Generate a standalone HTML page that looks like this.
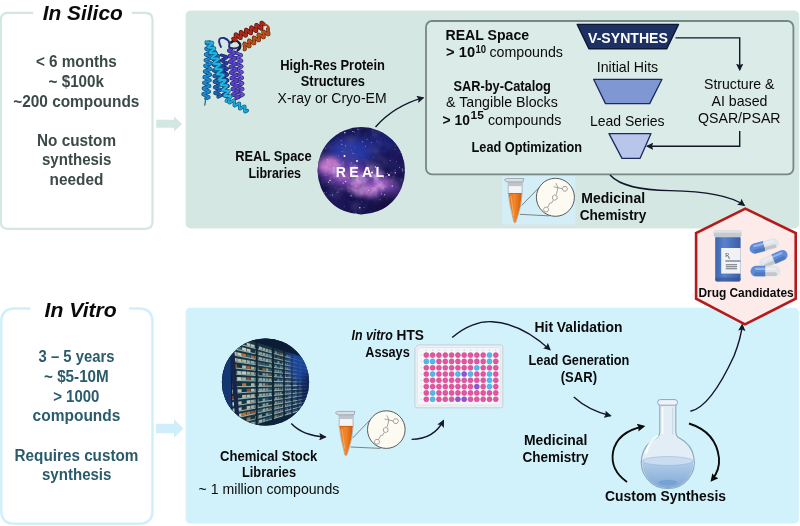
<!DOCTYPE html>
<html lang="en"><head><meta charset="utf-8"><title>In Silico vs In Vitro drug discovery</title>
<style>
html,body{margin:0;padding:0;background:#fff;}
body{width:800px;height:526px;overflow:hidden;}
svg{display:block;font-family:"Liberation Sans",Arial,sans-serif;will-change:transform;}
.b{font-weight:700}
.i{font-style:italic}
.arr{fill:none;stroke:#13152a;stroke-width:1.4}
</style></head><body>
<svg width="800" height="526" viewBox="0 0 800 526">
<defs>
<marker id="ah" viewBox="0 0 10 10" refX="8.5" refY="5" markerWidth="7.4" markerHeight="7.4" orient="auto-start-reverse" markerUnits="userSpaceOnUse"><path d="M0 0 L10 5 L0 10 L1.8 5 Z" fill="#15192b"/></marker>
<marker id="ahb" viewBox="0 0 10 10" refX="7" refY="5" markerWidth="8" markerHeight="8" orient="auto-start-reverse" markerUnits="userSpaceOnUse"><path d="M0 0 L10 5 L0 10 L1.5 5 Z" fill="#0b0b0b"/></marker>
<clipPath id="cgal"><circle cx="361.25" cy="170.75" r="43.7"/></clipPath>
<clipPath id="cstk"><circle cx="265.5" cy="382" r="43.6"/></clipPath>
<filter id="neb" x="0" y="0" width="100%" height="100%"><feTurbulence type="fractalNoise" baseFrequency="0.06" numOctaves="4" seed="4"/><feColorMatrix values="0 0 0 0 0.86  0 0 0 0 0.52  0 0 0 0 0.86  2.6 0 0 0 -1.15"/></filter>
<filter id="nebdark" x="0" y="0" width="100%" height="100%"><feTurbulence type="fractalNoise" baseFrequency="0.07" numOctaves="3" seed="9"/><feColorMatrix values="0 0 0 0 0.07  0 0 0 0 0.06  0 0 0 0 0.26  0 2.4 0 0 -1.0"/></filter>
<mask id="nebmask"><rect x="317" y="127" width="89" height="89" fill="#000"/><ellipse cx="355" cy="177" rx="40" ry="15" fill="#fff" filter="url(#blur5)" transform="rotate(16 355 177)"/></mask>
<filter id="blur3" x="-50%" y="-50%" width="200%" height="200%"><feGaussianBlur stdDeviation="3"/></filter>
<filter id="blur5" x="-50%" y="-50%" width="200%" height="200%"><feGaussianBlur stdDeviation="5"/></filter>
<filter id="blur1" x="-50%" y="-50%" width="200%" height="200%"><feGaussianBlur stdDeviation="0.6"/></filter>
<linearGradient id="stkbg" x1="0" y1="0" x2="1" y2="0"><stop offset="0" stop-color="#14303a"/><stop offset="0.6" stop-color="#17384a"/><stop offset="1" stop-color="#12306e"/></linearGradient>
<linearGradient id="liq" x1="0" y1="0" x2="0" y2="1"><stop offset="0" stop-color="#b5cfea"/><stop offset="1" stop-color="#7fa9d6"/></linearGradient>
<linearGradient id="bot" x1="0" y1="0" x2="1" y2="0"><stop offset="0" stop-color="#3d63ad"/><stop offset="0.35" stop-color="#5a82cc"/><stop offset="1" stop-color="#3a5ea6"/></linearGradient>
<linearGradient id="orange" x1="0" y1="0" x2="1" y2="0"><stop offset="0" stop-color="#e9741a"/><stop offset="0.45" stop-color="#f2872a"/><stop offset="1" stop-color="#cf5c0e"/></linearGradient>
</defs>
<rect width="800" height="526" fill="#ffffff"/>

<rect x="185.6" y="10.5" width="613.6" height="218" rx="5" fill="#d5e7e2"/>
<rect x="185.7" y="307.7" width="613.1" height="215.8" rx="4.5" fill="#d1f1fb"/>
<path d="M131.8 12.9 H145.5 Q152.5 12.9 152.5 20 V221.8 Q152.5 228.8 145.5 228.8 H7.8 Q0.8 228.8 0.8 221.8 V20 Q0.8 12.9 7.8 12.9 H33.2" fill="none" stroke="#d3e7e2" stroke-width="2.2"/>
<path d="M129 308.4 H139 Q152.5 308.4 152.5 322 V510.2 Q152.5 523.8 139 523.8 H14.8 Q1.3 523.8 1.3 510.2 V322 Q1.3 308.4 14.8 308.4 H30.5" fill="none" stroke="#d0effa" stroke-width="2.5"/>
<path d="M156.2 119.8 H174 V116.4 L182.1 123.9 L174 131.4 V127.8 H156.2 Z" fill="#d3e7e2"/>
<path d="M155.9 423.7 H174 V419.2 L183.5 428.5 L174 437.7 V433.3 H155.9 Z" fill="#cfeefa"/>
<rect x="426" y="21" width="367.4" height="153.3" rx="6" fill="#dbebe7" stroke="#788785" stroke-width="1.8"/>
<g fill="none" stroke-linecap="round" stroke-linejoin="round">
<path d="M221.5 55.1 222.7 55.6 224.4 56.1 226.0 56.6 226.8 57.2 226.7 57.7 225.5 58.4 223.9 59.0 222.3 59.7 221.5 60.3 221.7 60.9 222.9 61.4 224.6 61.9 226.2 62.4 227.1 62.9 226.9 63.5 225.8 64.1 224.1 64.8 222.6 65.4 221.8 66.0 222.0 66.6 223.2 67.1 224.9 67.6 226.5 68.1 227.4 68.6 227.2 69.2 226.1 69.8 224.4 70.5 222.9 71.1 222.0 71.8 222.3 72.3 223.5 72.8 225.2 73.3 226.8 73.8 227.6 74.4 227.5 74.9 226.3 75.6 224.7 76.2 223.1 76.9 222.3 77.5 222.5 78.1 223.7 78.6 225.4 79.1 227.0 79.6 227.9 80.1 227.7 80.7 226.6 81.3 224.9 82.0 223.4 82.6 222.6 83.2 222.8 83.8 224.0 84.3 225.7 84.8 227.3 85.3 228.2 85.8 228.0 86.4 226.9 87.0 225.2 87.7 223.7 88.3 222.8 89.0 223.1 89.5 224.3 90.0 226.0 90.5 227.6 91.0 228.4 91.6 228.3 92.1 227.1 92.8 225.5 93.4 223.9 94.1 223.1 94.7 223.3 95.3 224.5 95.8 226.2 96.3 227.8 96.8 228.7 97.3 228.5 97.9" stroke="#141d5c" stroke-width="3.1"/><path d="M221.5 55.1 222.7 55.6 224.4 56.1 226.0 56.6 226.8 57.2 226.7 57.7 225.5 58.4 223.9 59.0 222.3 59.7 221.5 60.3 221.7 60.9 222.9 61.4 224.6 61.9 226.2 62.4 227.1 62.9 226.9 63.5 225.8 64.1 224.1 64.8 222.6 65.4 221.8 66.0 222.0 66.6 223.2 67.1 224.9 67.6 226.5 68.1 227.4 68.6 227.2 69.2 226.1 69.8 224.4 70.5 222.9 71.1 222.0 71.8 222.3 72.3 223.5 72.8 225.2 73.3 226.8 73.8 227.6 74.4 227.5 74.9 226.3 75.6 224.7 76.2 223.1 76.9 222.3 77.5 222.5 78.1 223.7 78.6 225.4 79.1 227.0 79.6 227.9 80.1 227.7 80.7 226.6 81.3 224.9 82.0 223.4 82.6 222.6 83.2 222.8 83.8 224.0 84.3 225.7 84.8 227.3 85.3 228.2 85.8 228.0 86.4 226.9 87.0 225.2 87.7 223.7 88.3 222.8 89.0 223.1 89.5 224.3 90.0 226.0 90.5 227.6 91.0 228.4 91.6 228.3 92.1 227.1 92.8 225.5 93.4 223.9 94.1 223.1 94.7 223.3 95.3 224.5 95.8 226.2 96.3 227.8 96.8 228.7 97.3 228.5 97.9" stroke="#2a3fa2" stroke-width="1.8"/>
<path d="M215.5 52.0 213.8 52.7 212.7 53.3 212.7 53.8 213.9 54.3 215.7 54.8 217.4 55.3 218.6 55.8 218.6 56.3 217.5 57.0 215.8 57.6 214.1 58.3 213.0 58.9 213.1 59.5 214.2 60.0 216.0 60.4 217.8 60.9 218.9 61.4 218.9 62.0 217.9 62.6 216.1 63.2 214.4 63.9 213.3 64.5 213.4 65.1 214.5 65.6 216.3 66.1 218.1 66.5 219.2 67.0 219.2 67.6 218.2 68.2 216.4 68.9 214.7 69.5 213.7 70.2 213.7 70.7 214.8 71.2 216.6 71.7 218.4 72.2 219.5 72.7 219.5 73.2 218.5 73.8 216.8 74.5 215.0 75.2 214.0 75.8 214.0 76.3 215.1 76.8 216.9 77.3 218.7 77.8 219.8 78.3 219.8 78.8 218.8 79.5 217.1 80.1 215.3 80.8 214.3 81.4 214.3 82.0 215.4 82.5 217.2 82.9 219.0 83.4 220.1 83.9 220.2 84.5 219.1 85.1 217.4 85.8 215.6 86.4 214.6 87.0 214.6 87.6 215.7 88.1 217.5 88.6 219.3 89.0 220.4 89.5 220.5 90.1 219.4 90.7 217.7 91.4 216.0 92.0 214.9 92.7 214.9 93.2 216.1 93.7 217.8 94.2 219.6 94.7 220.8 95.2 220.8 95.7 219.7 96.3 218.0 97.0" stroke="#0f3468" stroke-width="3.2"/><path d="M215.5 52.0 213.8 52.7 212.7 53.3 212.7 53.8 213.9 54.3 215.7 54.8 217.4 55.3 218.6 55.8 218.6 56.3 217.5 57.0 215.8 57.6 214.1 58.3 213.0 58.9 213.1 59.5 214.2 60.0 216.0 60.4 217.8 60.9 218.9 61.4 218.9 62.0 217.9 62.6 216.1 63.2 214.4 63.9 213.3 64.5 213.4 65.1 214.5 65.6 216.3 66.1 218.1 66.5 219.2 67.0 219.2 67.6 218.2 68.2 216.4 68.9 214.7 69.5 213.7 70.2 213.7 70.7 214.8 71.2 216.6 71.7 218.4 72.2 219.5 72.7 219.5 73.2 218.5 73.8 216.8 74.5 215.0 75.2 214.0 75.8 214.0 76.3 215.1 76.8 216.9 77.3 218.7 77.8 219.8 78.3 219.8 78.8 218.8 79.5 217.1 80.1 215.3 80.8 214.3 81.4 214.3 82.0 215.4 82.5 217.2 82.9 219.0 83.4 220.1 83.9 220.2 84.5 219.1 85.1 217.4 85.8 215.6 86.4 214.6 87.0 214.6 87.6 215.7 88.1 217.5 88.6 219.3 89.0 220.4 89.5 220.5 90.1 219.4 90.7 217.7 91.4 216.0 92.0 214.9 92.7 214.9 93.2 216.1 93.7 217.8 94.2 219.6 94.7 220.8 95.2 220.8 95.7 219.7 96.3 218.0 97.0" stroke="#1e64b4" stroke-width="1.9"/>
<path d="M236.6 52.1 236.2 52.7 236.8 53.2 238.2 53.7 239.8 54.2 241.1 54.7 241.5 55.3 241.0 55.8 239.7 56.5 238.1 57.1 236.9 57.7 236.5 58.3 237.1 58.8 238.5 59.3 240.1 59.8 241.4 60.3 241.8 60.9 241.2 61.5 239.9 62.1 238.3 62.7 237.1 63.3 236.7 63.9 237.3 64.5 238.7 65.0 240.3 65.5 241.6 66.0 242.0 66.5 241.5 67.1 240.2 67.7 238.6 68.4 237.4 69.0 237.0 69.6 237.6 70.1 239.0 70.6 240.6 71.1 241.9 71.6 242.3 72.1 241.7 72.7 240.4 73.3 238.8 74.0 237.6 74.6 237.2 75.2 237.8 75.7 239.2 76.2 240.8 76.7 242.1 77.2 242.5 77.8 242.0 78.3 240.7 79.0 239.1 79.6 237.9 80.2 237.5 80.8 238.1 81.3 239.5 81.8 241.1 82.3 242.4 82.8 242.8 83.4 242.2 84.0 240.9 84.6 239.3 85.2 238.1 85.8 237.7 86.4 238.3 87.0 239.7 87.5 241.3 88.0 242.6 88.5 243.0 89.0 242.5 89.6 241.2 90.2 239.6 90.9 238.4 91.5 238.0 92.1 238.6 92.6 240.0 93.1 241.6 93.6 242.9 94.1 243.3 94.6 242.7 95.2 241.4 95.8 239.8 96.5 238.6 97.1" stroke="#2c2270" stroke-width="3.1"/><path d="M236.6 52.1 236.2 52.7 236.8 53.2 238.2 53.7 239.8 54.2 241.1 54.7 241.5 55.3 241.0 55.8 239.7 56.5 238.1 57.1 236.9 57.7 236.5 58.3 237.1 58.8 238.5 59.3 240.1 59.8 241.4 60.3 241.8 60.9 241.2 61.5 239.9 62.1 238.3 62.7 237.1 63.3 236.7 63.9 237.3 64.5 238.7 65.0 240.3 65.5 241.6 66.0 242.0 66.5 241.5 67.1 240.2 67.7 238.6 68.4 237.4 69.0 237.0 69.6 237.6 70.1 239.0 70.6 240.6 71.1 241.9 71.6 242.3 72.1 241.7 72.7 240.4 73.3 238.8 74.0 237.6 74.6 237.2 75.2 237.8 75.7 239.2 76.2 240.8 76.7 242.1 77.2 242.5 77.8 242.0 78.3 240.7 79.0 239.1 79.6 237.9 80.2 237.5 80.8 238.1 81.3 239.5 81.8 241.1 82.3 242.4 82.8 242.8 83.4 242.2 84.0 240.9 84.6 239.3 85.2 238.1 85.8 237.7 86.4 238.3 87.0 239.7 87.5 241.3 88.0 242.6 88.5 243.0 89.0 242.5 89.6 241.2 90.2 239.6 90.9 238.4 91.5 238.0 92.1 238.6 92.6 240.0 93.1 241.6 93.6 242.9 94.1 243.3 94.6 242.7 95.2 241.4 95.8 239.8 96.5 238.6 97.1" stroke="#6a54d6" stroke-width="1.8"/>
<path d="M231.5 49.0 229.7 49.7 228.7 50.4 228.7 50.9 229.9 51.4 231.8 51.8 233.6 52.1 234.8 52.6 234.8 53.1 233.8 53.8 232.0 54.5 230.2 55.2 229.2 55.9 229.2 56.4 230.4 56.9 232.2 57.2 234.1 57.6 235.3 58.1 235.3 58.6 234.3 59.3 232.5 60.0 230.7 60.7 229.7 61.4 229.7 61.9 230.9 62.4 232.8 62.8 234.6 63.1 235.8 63.6 235.8 64.1 234.8 64.8 233.0 65.5 231.2 66.2 230.2 66.9 230.2 67.4 231.4 67.9 233.2 68.2 235.1 68.6 236.3 69.1 236.3 69.6 235.3 70.3 233.5 71.0 231.7 71.7 230.7 72.4 230.7 72.9 231.9 73.4 233.8 73.8 235.6 74.1 236.8 74.6 236.8 75.1 235.8 75.8 234.0 76.5 232.2 77.2 231.2 77.9 231.2 78.4 232.4 78.9 234.2 79.2 236.1 79.6 237.3 80.1 237.3 80.6 236.3 81.3 234.5 82.0 232.7 82.7 231.7 83.4 231.7 83.9 232.9 84.4 234.8 84.8 236.6 85.1 237.8 85.6 237.8 86.1 236.8 86.8 235.0 87.5 233.2 88.2 232.2 88.9 232.2 89.4 233.4 89.9 235.2 90.2 237.1 90.6 238.3 91.1 238.3 91.6 237.3 92.3 235.5 93.0 233.7 93.7 232.7 94.4 232.7 94.9 233.9 95.4 235.8 95.8 237.6 96.1 238.8 96.6 238.8 97.1 237.8 97.8 236.0 98.5" stroke="#261c68" stroke-width="3.3"/><path d="M231.5 49.0 229.7 49.7 228.7 50.4 228.7 50.9 229.9 51.4 231.8 51.8 233.6 52.1 234.8 52.6 234.8 53.1 233.8 53.8 232.0 54.5 230.2 55.2 229.2 55.9 229.2 56.4 230.4 56.9 232.2 57.2 234.1 57.6 235.3 58.1 235.3 58.6 234.3 59.3 232.5 60.0 230.7 60.7 229.7 61.4 229.7 61.9 230.9 62.4 232.8 62.8 234.6 63.1 235.8 63.6 235.8 64.1 234.8 64.8 233.0 65.5 231.2 66.2 230.2 66.9 230.2 67.4 231.4 67.9 233.2 68.2 235.1 68.6 236.3 69.1 236.3 69.6 235.3 70.3 233.5 71.0 231.7 71.7 230.7 72.4 230.7 72.9 231.9 73.4 233.8 73.8 235.6 74.1 236.8 74.6 236.8 75.1 235.8 75.8 234.0 76.5 232.2 77.2 231.2 77.9 231.2 78.4 232.4 78.9 234.2 79.2 236.1 79.6 237.3 80.1 237.3 80.6 236.3 81.3 234.5 82.0 232.7 82.7 231.7 83.4 231.7 83.9 232.9 84.4 234.8 84.8 236.6 85.1 237.8 85.6 237.8 86.1 236.8 86.8 235.0 87.5 233.2 88.2 232.2 88.9 232.2 89.4 233.4 89.9 235.2 90.2 237.1 90.6 238.3 91.1 238.3 91.6 237.3 92.3 235.5 93.0 233.7 93.7 232.7 94.4 232.7 94.9 233.9 95.4 235.8 95.8 237.6 96.1 238.8 96.6 238.8 97.1 237.8 97.8 236.0 98.5" stroke="#5643c8" stroke-width="2.0"/>
<path d="M209.5 42.0 207.6 42.4 206.4 42.9 206.4 43.5 207.5 44.1 209.3 44.8 211.2 45.5 212.3 46.2 212.2 46.7 211.0 47.2 209.1 47.6 207.2 48.1 206.0 48.6 206.0 49.1 207.1 49.8 208.9 50.5 210.8 51.2 211.9 51.8 211.9 52.4 210.7 52.9 208.8 53.3 206.8 53.7 205.6 54.2 205.6 54.8 206.7 55.4 208.6 56.1 210.4 56.8 211.5 57.5 211.5 58.0 210.3 58.5 208.4 59.0 206.5 59.4 205.3 59.9 205.2 60.4 206.4 61.1 208.2 61.8 210.0 62.5 211.2 63.1 211.1 63.7 209.9 64.2 208.0 64.6 206.1 65.0 204.9 65.5 204.9 66.1 206.0 66.7 207.8 67.4 209.7 68.1 210.8 68.8 210.8 69.3 209.6 69.8 207.7 70.2 205.7 70.7 204.5 71.2 204.5 71.7 205.6 72.4 207.5 73.1 209.3 73.8 210.4 74.4 210.4 75.0 209.2 75.5 207.3 75.9 205.4 76.3 204.2 76.8 204.1 77.4 205.3 78.0 207.1 78.7 208.9 79.4 210.1 80.1 210.0 80.6 208.8 81.1 206.9 81.5 205.0 82.0 203.8 82.5 203.8 83.0 204.9 83.7 206.7 84.4 208.6 85.1 209.7 85.7 209.7 86.3 208.5 86.8 206.5 87.2 204.6 87.6 203.4 88.1 203.4 88.7 204.5 89.3 206.4 90.0 208.2 90.7 209.3 91.4 209.3 91.9 208.1 92.4 206.2 92.8 204.3 93.3 203.1 93.8 203.0 94.3 204.1 95.0 206.0 95.7 207.8 96.4 208.9 97.0 208.9 97.6 207.7 98.1 205.8 98.5" stroke="#0c4876" stroke-width="3.3"/><path d="M209.5 42.0 207.6 42.4 206.4 42.9 206.4 43.5 207.5 44.1 209.3 44.8 211.2 45.5 212.3 46.2 212.2 46.7 211.0 47.2 209.1 47.6 207.2 48.1 206.0 48.6 206.0 49.1 207.1 49.8 208.9 50.5 210.8 51.2 211.9 51.8 211.9 52.4 210.7 52.9 208.8 53.3 206.8 53.7 205.6 54.2 205.6 54.8 206.7 55.4 208.6 56.1 210.4 56.8 211.5 57.5 211.5 58.0 210.3 58.5 208.4 59.0 206.5 59.4 205.3 59.9 205.2 60.4 206.4 61.1 208.2 61.8 210.0 62.5 211.2 63.1 211.1 63.7 209.9 64.2 208.0 64.6 206.1 65.0 204.9 65.5 204.9 66.1 206.0 66.7 207.8 67.4 209.7 68.1 210.8 68.8 210.8 69.3 209.6 69.8 207.7 70.2 205.7 70.7 204.5 71.2 204.5 71.7 205.6 72.4 207.5 73.1 209.3 73.8 210.4 74.4 210.4 75.0 209.2 75.5 207.3 75.9 205.4 76.3 204.2 76.8 204.1 77.4 205.3 78.0 207.1 78.7 208.9 79.4 210.1 80.1 210.0 80.6 208.8 81.1 206.9 81.5 205.0 82.0 203.8 82.5 203.8 83.0 204.9 83.7 206.7 84.4 208.6 85.1 209.7 85.7 209.7 86.3 208.5 86.8 206.5 87.2 204.6 87.6 203.4 88.1 203.4 88.7 204.5 89.3 206.4 90.0 208.2 90.7 209.3 91.4 209.3 91.9 208.1 92.4 206.2 92.8 204.3 93.3 203.1 93.8 203.0 94.3 204.1 95.0 206.0 95.7 207.8 96.4 208.9 97.0 208.9 97.6 207.7 98.1 205.8 98.5" stroke="#1d86cc" stroke-width="2.0"/>
<path d="M206.2 42.0 206.8 42.4 208.3 42.4 210.2 42.4 211.9 42.4 212.7 42.7 212.5 43.4 211.3 44.4 209.8 45.5 208.5 46.6 208.0 47.3 208.6 47.7 210.1 47.8 212.0 47.7 213.7 47.8 214.6 48.1 214.3 48.8 213.2 49.8 211.6 50.9 210.3 51.9 209.8 52.7 210.4 53.1 211.9 53.2 213.9 53.1 215.5 53.1 216.4 53.4 216.1 54.1 215.0 55.1 213.4 56.3 212.1 57.3 211.6 58.1 212.2 58.4 213.8 58.5 215.7 58.5 217.4 58.5 218.2 58.8 218.0 59.5 216.8 60.5 215.2 61.6 213.9 62.7 213.4 63.4 214.0 63.8 215.6 63.9 217.5 63.8 219.2 63.9 220.0 64.2 219.8 64.9 218.6 65.8 217.0 67.0 215.7 68.0 215.3 68.8 215.9 69.2 217.4 69.3 219.3 69.2 221.0 69.2 221.8 69.5 221.6 70.2 220.4 71.2 218.9 72.3 217.6 73.4 217.1 74.1 217.7 74.5 219.2 74.6 221.1 74.6 222.8 74.6 223.7 74.9 223.4 75.6 222.2 76.6 220.7 77.7 219.4 78.7 218.9 79.5 219.5 79.9 221.0 80.0 223.0 79.9 224.6 80.0 225.5 80.3 225.2 80.9 224.1 81.9 222.5 83.1 221.2 84.1 220.7 84.9 221.3 85.3 222.8 85.3 224.8 85.3 226.4 85.3 227.3 85.6 227.0 86.3 225.9 87.3 224.3 88.4 223.0 89.5 222.5 90.2 223.1 90.6 224.7 90.7 226.6 90.6 228.3 90.7 229.1 91.0 228.9 91.7 227.7 92.7 226.1 93.8 224.8 94.8 224.3 95.6 225.0 96.0 226.5 96.1 228.4 96.0 230.1 96.0 230.9 96.4 230.7 97.0 229.5 98.0 228.0 99.2 226.6 100.2 226.2 101.0" stroke="#0b5c86" stroke-width="3.3"/><path d="M206.2 42.0 206.8 42.4 208.3 42.4 210.2 42.4 211.9 42.4 212.7 42.7 212.5 43.4 211.3 44.4 209.8 45.5 208.5 46.6 208.0 47.3 208.6 47.7 210.1 47.8 212.0 47.7 213.7 47.8 214.6 48.1 214.3 48.8 213.2 49.8 211.6 50.9 210.3 51.9 209.8 52.7 210.4 53.1 211.9 53.2 213.9 53.1 215.5 53.1 216.4 53.4 216.1 54.1 215.0 55.1 213.4 56.3 212.1 57.3 211.6 58.1 212.2 58.4 213.8 58.5 215.7 58.5 217.4 58.5 218.2 58.8 218.0 59.5 216.8 60.5 215.2 61.6 213.9 62.7 213.4 63.4 214.0 63.8 215.6 63.9 217.5 63.8 219.2 63.9 220.0 64.2 219.8 64.9 218.6 65.8 217.0 67.0 215.7 68.0 215.3 68.8 215.9 69.2 217.4 69.3 219.3 69.2 221.0 69.2 221.8 69.5 221.6 70.2 220.4 71.2 218.9 72.3 217.6 73.4 217.1 74.1 217.7 74.5 219.2 74.6 221.1 74.6 222.8 74.6 223.7 74.9 223.4 75.6 222.2 76.6 220.7 77.7 219.4 78.7 218.9 79.5 219.5 79.9 221.0 80.0 223.0 79.9 224.6 80.0 225.5 80.3 225.2 80.9 224.1 81.9 222.5 83.1 221.2 84.1 220.7 84.9 221.3 85.3 222.8 85.3 224.8 85.3 226.4 85.3 227.3 85.6 227.0 86.3 225.9 87.3 224.3 88.4 223.0 89.5 222.5 90.2 223.1 90.6 224.7 90.7 226.6 90.6 228.3 90.7 229.1 91.0 228.9 91.7 227.7 92.7 226.1 93.8 224.8 94.8 224.3 95.6 225.0 96.0 226.5 96.1 228.4 96.0 230.1 96.0 230.9 96.4 230.7 97.0 229.5 98.0 228.0 99.2 226.6 100.2 226.2 101.0" stroke="#22b3e3" stroke-width="2.0"/>
<path d="M229.0 100.0 228.8 101.5 228.9 102.6 229.5 102.9 230.4 102.4 231.6 101.5 232.9 100.6 233.8 100.1 234.4 100.4 234.5 101.5 234.3 103.0 234.1 104.5 234.2 105.6 234.7 105.9 235.7 105.4 236.9 104.5 238.2 103.6 239.1 103.1 239.6 103.4 239.7 104.5 239.6 106.0 239.4 107.5 239.5 108.6 240.0 108.9 241.0 108.4 242.2 107.5 243.4 106.6 244.4 106.1 244.9 106.4 245.0 107.5 244.9 109.0 244.7 110.5 244.8 111.6 245.3 111.9 246.3 111.4 247.5 110.5" stroke="#0b5c86" stroke-width="3.1"/><path d="M229.0 100.0 228.8 101.5 228.9 102.6 229.5 102.9 230.4 102.4 231.6 101.5 232.9 100.6 233.8 100.1 234.4 100.4 234.5 101.5 234.3 103.0 234.1 104.5 234.2 105.6 234.7 105.9 235.7 105.4 236.9 104.5 238.2 103.6 239.1 103.1 239.6 103.4 239.7 104.5 239.6 106.0 239.4 107.5 239.5 108.6 240.0 108.9 241.0 108.4 242.2 107.5 243.4 106.6 244.4 106.1 244.9 106.4 245.0 107.5 244.9 109.0 244.7 110.5 244.8 111.6 245.3 111.9 246.3 111.4 247.5 110.5" stroke="#1fa9d8" stroke-width="1.8"/>
<path d="M205.8 98.5 L204.8 105" stroke="#1a6fa8" stroke-width="1.3"/>
<path d="M221 47 Q216 37 224 38 Q231 40 229 47 Q234 50 239 47" stroke="#252a80" stroke-width="1.9"/>
<path d="M231 42.5 Q236 38 240 44 Q241 48 238 50" stroke="#1c1c28" stroke-width="2.4"/>
<path d="M233.0 38.5 234.2 39.9 235.2 40.6 235.7 40.4 235.8 39.2 235.6 37.3 235.4 35.5 235.4 34.3 236.0 34.0 236.9 34.8 238.2 36.2 239.4 37.5 240.4 38.3 240.9 38.1 241.0 36.8 240.8 35.0 240.5 33.2 240.6 31.9 241.1 31.7 242.1 32.5 243.3 33.8 244.6 35.2 245.5 36.0 246.1 35.7 246.1 34.5 245.9 32.7 245.7 30.8 245.8 29.6 246.3 29.4 247.3 30.1 248.5 31.5 249.7 32.9 250.7 33.6 251.2 33.4 251.3 32.2 251.1 30.3 250.9 28.5 250.9 27.3 251.5 27.0 252.4 27.8 253.7 29.2 254.9 30.5 255.9 31.3 256.4 31.1 256.5 29.8 256.2 28.0 256.0 26.2 256.1 24.9 256.6 24.7 257.6 25.5 258.8 26.8 260.1 28.2 261.0 29.0 261.6 28.7 261.6 27.5 261.4 25.7 261.2 23.8 261.3 22.6 261.8 22.4 262.8 23.1 264.0 24.5" stroke="#530f08" stroke-width="3.5"/><path d="M233.0 38.5 234.2 39.9 235.2 40.6 235.7 40.4 235.8 39.2 235.6 37.3 235.4 35.5 235.4 34.3 236.0 34.0 236.9 34.8 238.2 36.2 239.4 37.5 240.4 38.3 240.9 38.1 241.0 36.8 240.8 35.0 240.5 33.2 240.6 31.9 241.1 31.7 242.1 32.5 243.3 33.8 244.6 35.2 245.5 36.0 246.1 35.7 246.1 34.5 245.9 32.7 245.7 30.8 245.8 29.6 246.3 29.4 247.3 30.1 248.5 31.5 249.7 32.9 250.7 33.6 251.2 33.4 251.3 32.2 251.1 30.3 250.9 28.5 250.9 27.3 251.5 27.0 252.4 27.8 253.7 29.2 254.9 30.5 255.9 31.3 256.4 31.1 256.5 29.8 256.2 28.0 256.0 26.2 256.1 24.9 256.6 24.7 257.6 25.5 258.8 26.8 260.1 28.2 261.0 29.0 261.6 28.7 261.6 27.5 261.4 25.7 261.2 23.8 261.3 22.6 261.8 22.4 262.8 23.1 264.0 24.5" stroke="#a92a1a" stroke-width="2.2"/>
<path d="M244.3 49.6 245.0 49.6 245.1 48.8 244.8 47.2 244.3 45.4 244.1 43.9 244.3 43.3 245.1 43.5 246.4 44.5 247.8 45.7 249.0 46.6 249.8 46.6 249.9 45.8 249.5 44.2 249.1 42.4 248.8 40.9 249.0 40.3 249.8 40.5 251.1 41.5 252.5 42.7 253.8 43.6 254.5 43.6 254.6 42.8 254.3 41.2 253.8 39.4 253.5 37.9 253.7 37.3 254.6 37.5 255.8 38.5 257.3 39.7 258.5 40.6 259.2 40.6 259.3 39.8 259.0 38.2 258.5 36.4 258.2 34.9 258.5 34.3 259.3 34.5 260.6 35.5 262.0 36.7 263.2 37.6 263.9 37.6 264.1 36.8 263.7 35.2 263.2 33.4 263.0 31.9 263.2 31.3 264.0 31.5 265.3 32.5 266.7 33.7 267.9 34.6 268.7 34.6 268.8 33.8 268.4 32.2 268.0 30.4 267.7 28.9" stroke="#62260a" stroke-width="3.4"/><path d="M244.3 49.6 245.0 49.6 245.1 48.8 244.8 47.2 244.3 45.4 244.1 43.9 244.3 43.3 245.1 43.5 246.4 44.5 247.8 45.7 249.0 46.6 249.8 46.6 249.9 45.8 249.5 44.2 249.1 42.4 248.8 40.9 249.0 40.3 249.8 40.5 251.1 41.5 252.5 42.7 253.8 43.6 254.5 43.6 254.6 42.8 254.3 41.2 253.8 39.4 253.5 37.9 253.7 37.3 254.6 37.5 255.8 38.5 257.3 39.7 258.5 40.6 259.2 40.6 259.3 39.8 259.0 38.2 258.5 36.4 258.2 34.9 258.5 34.3 259.3 34.5 260.6 35.5 262.0 36.7 263.2 37.6 263.9 37.6 264.1 36.8 263.7 35.2 263.2 33.4 263.0 31.9 263.2 31.3 264.0 31.5 265.3 32.5 266.7 33.7 267.9 34.6 268.7 34.6 268.8 33.8 268.4 32.2 268.0 30.4 267.7 28.9" stroke="#b9511d" stroke-width="2.1"/>
<path d="M264 24.5 Q270 25 269 31" stroke="#b03c1a" stroke-width="1.8"/>
</g>
<g clip-path="url(#cgal)">
<rect x="317" y="127" width="89" height="89" fill="#17144c"/>
<ellipse cx="352" cy="151" rx="24" ry="14" fill="#2a3cae" opacity="0.9" filter="url(#blur5)"/>
<ellipse cx="382" cy="142" rx="18" ry="10" fill="#1e2884" opacity="0.8" filter="url(#blur5)"/>
<ellipse cx="352" cy="176" rx="36" ry="14" fill="#6d3fae" opacity="0.95" filter="url(#blur5)" transform="rotate(16 352 176)"/>
<ellipse cx="380" cy="187" rx="22" ry="10" fill="#7a46b6" opacity="0.85" filter="url(#blur5)" transform="rotate(10 380 187)"/>
<ellipse cx="329" cy="165" rx="11" ry="8" fill="#dc86d6" opacity="0.95" filter="url(#blur3)"/>
<ellipse cx="344" cy="176" rx="11" ry="5" fill="#b765c8" opacity="0.85" filter="url(#blur3)"/>
<ellipse cx="364" cy="188" rx="14" ry="5.5" fill="#c872cc" opacity="0.9" filter="url(#blur3)" transform="rotate(12 364 188)"/>
<ellipse cx="384" cy="184" rx="8" ry="4" fill="#c878cc" opacity="0.75" filter="url(#blur3)"/>
<g mask="url(#nebmask)"><rect x="317" y="127" width="89" height="89" filter="url(#neb)"/></g>
<rect x="317" y="127" width="89" height="89" filter="url(#nebdark)" opacity="0.55"/>
<ellipse cx="392" cy="206" rx="20" ry="11" fill="#120f40" opacity="0.9" filter="url(#blur5)"/>
<ellipse cx="333" cy="206" rx="18" ry="9" fill="#1b175c" opacity="0.8" filter="url(#blur5)"/>
<ellipse cx="397" cy="158" rx="11" ry="14" fill="#1a1860" opacity="0.8" filter="url(#blur5)"/>
<g fill="#e8e6ff"><circle cx="330.0" cy="180.4" r="0.75" opacity="0.90"/><circle cx="322.7" cy="182.8" r="0.35" opacity="0.60"/><circle cx="371.3" cy="142.3" r="0.50" opacity="0.60"/><circle cx="381.2" cy="184.2" r="0.30" opacity="0.45"/><circle cx="338.5" cy="155.2" r="0.45" opacity="0.60"/><circle cx="332.7" cy="142.9" r="0.30" opacity="0.45"/><circle cx="401.2" cy="179.9" r="0.50" opacity="0.45"/><circle cx="365.6" cy="146.2" r="0.50" opacity="0.60"/><circle cx="326.5" cy="166.6" r="0.45" opacity="0.45"/><circle cx="345.8" cy="145.6" r="0.40" opacity="0.90"/><circle cx="404.9" cy="170.1" r="0.75" opacity="0.45"/><circle cx="354.8" cy="147.1" r="0.35" opacity="0.75"/><circle cx="393.5" cy="176.8" r="0.30" opacity="0.90"/><circle cx="379.6" cy="185.5" r="0.30" opacity="0.45"/><circle cx="361.8" cy="169.9" r="0.35" opacity="0.45"/><circle cx="318.7" cy="178.9" r="0.45" opacity="0.90"/><circle cx="392.3" cy="186.1" r="0.75" opacity="0.75"/><circle cx="348.6" cy="191.6" r="0.30" opacity="0.90"/><circle cx="362.0" cy="155.8" r="0.35" opacity="0.45"/><circle cx="391.0" cy="172.8" r="0.45" opacity="0.60"/><circle cx="353.4" cy="153.5" r="0.50" opacity="0.60"/><circle cx="399.4" cy="167.2" r="0.45" opacity="0.90"/><circle cx="382.3" cy="189.7" r="0.35" opacity="0.45"/><circle cx="355.9" cy="213.5" r="0.75" opacity="0.75"/><circle cx="367.4" cy="170.7" r="0.35" opacity="0.90"/><circle cx="395.1" cy="169.9" r="0.50" opacity="0.45"/><circle cx="377.4" cy="175.1" r="0.45" opacity="0.75"/><circle cx="395.3" cy="172.8" r="0.75" opacity="0.75"/><circle cx="352.3" cy="178.6" r="0.35" opacity="0.60"/><circle cx="387.7" cy="173.3" r="0.50" opacity="0.90"/><circle cx="384.6" cy="194.8" r="0.75" opacity="0.60"/><circle cx="373.7" cy="156.9" r="0.35" opacity="0.75"/><circle cx="394.4" cy="149.2" r="0.35" opacity="0.60"/><circle cx="380.1" cy="199.8" r="0.50" opacity="0.60"/><circle cx="350.7" cy="145.6" r="0.45" opacity="0.45"/><circle cx="348.8" cy="177.4" r="0.30" opacity="0.75"/><circle cx="363.9" cy="207.3" r="0.40" opacity="0.90"/><circle cx="376.3" cy="140.6" r="0.40" opacity="0.60"/><circle cx="400.2" cy="152.2" r="0.35" opacity="0.60"/><circle cx="326.2" cy="175.3" r="0.50" opacity="0.45"/><circle cx="353.4" cy="211.9" r="0.35" opacity="0.45"/><circle cx="386.7" cy="182.5" r="0.35" opacity="0.45"/><circle cx="383.5" cy="177.4" r="0.50" opacity="0.60"/><circle cx="374.9" cy="179.6" r="0.45" opacity="0.75"/><circle cx="341.2" cy="140.5" r="0.50" opacity="0.60"/><circle cx="325.8" cy="148.3" r="0.45" opacity="0.75"/><circle cx="348.2" cy="129.9" r="0.30" opacity="0.45"/><circle cx="324.1" cy="174.9" r="0.40" opacity="0.60"/><circle cx="373.2" cy="170.7" r="0.50" opacity="0.75"/><circle cx="357.9" cy="129.4" r="0.60" opacity="0.60"/><circle cx="372.5" cy="130.5" r="0.40" opacity="0.45"/><circle cx="344.8" cy="132.7" r="0.75" opacity="0.90"/><circle cx="368.4" cy="168.1" r="0.45" opacity="0.45"/><circle cx="342.1" cy="151.6" r="0.50" opacity="0.45"/><circle cx="351.7" cy="162.9" r="0.60" opacity="0.45"/><circle cx="402.2" cy="169.0" r="0.60" opacity="0.75"/><circle cx="332.6" cy="194.9" r="0.50" opacity="0.90"/><circle cx="324.0" cy="185.4" r="0.30" opacity="0.45"/><circle cx="356.5" cy="182.8" r="0.30" opacity="0.60"/><circle cx="375.4" cy="166.9" r="0.75" opacity="0.90"/><circle cx="361.1" cy="175.4" r="0.40" opacity="0.60"/><circle cx="352.7" cy="153.1" r="0.35" opacity="0.75"/><circle cx="345.7" cy="146.2" r="0.35" opacity="0.75"/><circle cx="343.2" cy="183.1" r="0.60" opacity="0.90"/><circle cx="373.8" cy="134.9" r="0.35" opacity="0.60"/><circle cx="336.3" cy="192.9" r="0.40" opacity="0.60"/><circle cx="381.4" cy="194.0" r="0.75" opacity="0.45"/><circle cx="351.0" cy="129.4" r="0.40" opacity="0.60"/><circle cx="384.0" cy="190.3" r="0.35" opacity="0.90"/><circle cx="337.9" cy="192.0" r="0.60" opacity="0.75"/><circle cx="352.8" cy="131.5" r="0.50" opacity="0.90"/><circle cx="344.2" cy="206.7" r="0.40" opacity="0.45"/><circle cx="351.2" cy="149.9" r="0.40" opacity="0.75"/><circle cx="341.8" cy="144.3" r="0.60" opacity="0.60"/><circle cx="345.5" cy="181.4" r="0.75" opacity="0.75"/><circle cx="362.5" cy="187.1" r="0.30" opacity="0.45"/><circle cx="328.5" cy="182.2" r="0.60" opacity="0.75"/><circle cx="396.2" cy="161.4" r="0.35" opacity="0.90"/><circle cx="359.8" cy="207.7" r="0.75" opacity="0.90"/><circle cx="353.1" cy="168.9" r="0.35" opacity="0.75"/><circle cx="367.0" cy="139.2" r="0.50" opacity="0.60"/><circle cx="330.7" cy="194.9" r="0.35" opacity="0.45"/><circle cx="326.3" cy="192.8" r="0.45" opacity="0.60"/><circle cx="342.8" cy="176.7" r="0.30" opacity="0.90"/><circle cx="327.7" cy="159.8" r="0.50" opacity="0.75"/><circle cx="326.9" cy="178.7" r="0.35" opacity="0.45"/><circle cx="354.3" cy="131.8" r="0.60" opacity="0.45"/><circle cx="370.7" cy="211.1" r="0.30" opacity="0.75"/><circle cx="323.4" cy="161.8" r="0.40" opacity="0.75"/><circle cx="395.4" cy="149.1" r="0.40" opacity="0.45"/><circle cx="386.1" cy="176.7" r="0.45" opacity="0.75"/><circle cx="353.9" cy="171.3" r="0.75" opacity="0.45"/><circle cx="353.9" cy="174.3" r="0.50" opacity="0.75"/><circle cx="345.0" cy="132.2" r="0.45" opacity="0.60"/><circle cx="402.7" cy="170.7" r="0.50" opacity="0.90"/><circle cx="390.2" cy="160.5" r="0.60" opacity="0.45"/><circle cx="362.7" cy="141.8" r="0.50" opacity="0.75"/><circle cx="377.2" cy="142.2" r="0.35" opacity="0.75"/><circle cx="351.1" cy="195.7" r="0.75" opacity="0.60"/><circle cx="355.7" cy="186.2" r="0.50" opacity="0.75"/><circle cx="343.7" cy="162.1" r="0.50" opacity="0.45"/><circle cx="327.3" cy="170.1" r="0.30" opacity="0.45"/><circle cx="333.7" cy="168.0" r="0.75" opacity="0.45"/><circle cx="325.0" cy="172.8" r="0.30" opacity="0.90"/><circle cx="324.6" cy="192.8" r="0.45" opacity="0.75"/><circle cx="362.0" cy="201.4" r="0.40" opacity="0.90"/><circle cx="395.6" cy="146.1" r="0.45" opacity="0.75"/><circle cx="383.2" cy="188.6" r="0.30" opacity="0.75"/><circle cx="387.8" cy="198.8" r="0.30" opacity="0.45"/><circle cx="368.4" cy="190.3" r="0.60" opacity="0.75"/></g>
<circle cx="344.5" cy="156" r="1.0" fill="#fff"/><circle cx="389" cy="175" r="1" fill="#fff"/><circle cx="357" cy="161" r="0.9" fill="#fff"/><circle cx="372" cy="172.5" r="1" fill="#fff"/>
</g>
<rect x="502.3" y="176.2" width="73.2" height="48.2" fill="#d4eef8"/>
<path d="M521.6 205.5 L540.2 186.4 M519.8 214.3 L549.5 215.9" stroke="#555" stroke-width="0.7" fill="none"/>
<path d="M508.2 181.0 L522.1 181.0 L522.1 193.4 L520.7 205.7 L517.6 217.0 L515.9 222.1 Q514.9 224.1 513.8 222.1 L512.7 217.0 L510.1 205.7 L508.2 193.4 Z" fill="#f3f4f6" stroke="#9aa2a8" stroke-width="0.7" stroke-linejoin="round"/>
<rect x="508.2" y="181.7" width="13.9" height="4.4" fill="#bfc4ca"/>
<path d="M508.6 193.2 L521.7 193.2 L520.4 205.7 L517.3 217.0 L515.7 221.9 Q514.9 223.5 514.0 221.9 L513.0 217.0 L510.4 205.7 L508.6 193.2 Z" fill="url(#orange)"/>
<path d="M508.6 193.5 H521.7" stroke="#c9570c" stroke-width="0.8"/>
<path d="M511.0 196.5 L513.8 215.5" stroke="#f9b067" stroke-width="1.1" stroke-linecap="round" opacity="0.8"/>
<path d="M506.8 178.5 H523.8 L523.1 181.9 H507.2 Q504.8 181.5 504.6 179.5 Z" fill="#dcdfe3" stroke="#8d959c" stroke-width="0.7" stroke-linejoin="round"/>
<circle cx="555.4" cy="197.3" r="19.0" fill="#fdfbf1" stroke="#4a4a4a" stroke-width="0.9"/>
<path d="M567.6 188.8 L566.2 191.1 L563.5 191.1 L562.2 188.8 L563.5 186.5 L566.2 186.5 Z M557.1 199.0 L554.8 200.3 L552.5 199.0 L552.5 196.3 L554.8 194.9 L557.1 196.3 Z M548.8 209.5 L547.5 211.8 L544.8 211.8 L543.4 209.5 L544.8 207.2 L547.5 207.2 Z M562.2 188.7 L558.0 187.7 L555.9 183.1 M558.0 187.7 L553.6 186.7 M558.0 187.7 L556.2 194.9 M553.4 200.0 L551.8 202.9 L549.8 203.1 L547.8 207.1" fill="none" stroke="#6b6b6b" stroke-width="0.6"/>
<g clip-path="url(#cstk)">
<rect x="221" y="338" width="90" height="89" fill="#14303a"/>
<rect x="221" y="338" width="90" height="89" fill="url(#stkbg)"/>
<path d="M232.0 338.3 L236.7 339.7 L236.7 342.8 L232.0 341.5 Z" fill="#d2ccb4" opacity="0.95"/>
<path d="M237.2 339.9 L241.6 341.2 L241.6 344.2 L237.2 342.9 Z" fill="#b9c6c2" opacity="0.90"/>
<path d="M246.7 342.7 L250.5 343.8 L250.5 346.6 L246.7 345.6 Z" fill="#efe9d4" opacity="0.80"/>
<path d="M251.0 344.0 L254.6 345.0 L254.6 347.8 L251.0 346.8 Z" fill="#efe9d4" opacity="0.76"/>
<path d="M258.9 346.3 L262.0 347.3 L262.0 349.8 L258.9 349.0 Z" fill="#efe9d4" opacity="0.68"/>
<path d="M262.5 347.4 L265.3 348.3 L265.3 350.8 L262.5 350.0 Z" fill="#e4dcc0" opacity="0.65"/>
<path d="M265.8 348.4 L268.5 349.2 L268.5 351.6 L265.8 350.9 Z" fill="#e4dcc0" opacity="0.61"/>
<path d="M269.0 349.4 L271.5 350.1 L271.5 352.5 L269.0 351.8 Z" fill="#c4cec8" opacity="0.58"/>
<path d="M272.0 350.2 L274.3 350.9 L274.3 353.2 L272.0 352.6 Z" fill="#3f6f78" opacity="0.55"/>
<path d="M274.8 351.1 L276.9 351.7 L276.9 354.0 L274.8 353.4 Z" fill="#c4cec8" opacity="0.52"/>
<path d="M277.4 351.9 L279.4 352.5 L279.4 354.7 L277.4 354.1 Z" fill="#d8641e" opacity="0.50"/>
<path d="M279.9 352.6 L281.7 353.2 L281.7 355.3 L279.9 354.8 Z" fill="#e07a2a" opacity="0.47"/>
<path d="M282.2 353.3 L283.9 353.8 L283.9 355.9 L282.2 355.5 Z" fill="#efe9d4" opacity="0.45"/>
<path d="M286.5 354.6 L287.9 355.0 L287.9 357.0 L286.5 356.6 Z" fill="#efe9d4" opacity="0.41"/>
<path d="M288.4 355.1 L289.7 355.5 L289.7 357.5 L288.4 357.2 Z" fill="#efe9d4" opacity="0.39"/>
<path d="M290.2 355.7 L291.4 356.1 L291.4 358.0 L290.2 357.7 Z" fill="#d2ccb4" opacity="0.37"/>
<path d="M291.9 356.2 L293.0 356.5 L293.0 358.5 L291.9 358.1 Z" fill="#3f6f78" opacity="0.35"/>
<path d="M293.5 356.7 L294.6 357.0 L294.6 358.9 L293.5 358.6 Z" fill="#e07a2a" opacity="0.33"/>
<path d="M295.1 357.2 L296.2 357.5 L296.2 359.3 L295.1 359.0 Z" fill="#efe9d4" opacity="0.32"/>
<path d="M296.7 357.6 L297.8 358.0 L297.8 359.8 L296.7 359.5 Z" fill="#efe9d4" opacity="0.30"/>
<path d="M298.3 358.1 L299.4 358.4 L299.4 360.2 L298.3 359.9 Z" fill="#c4cec8" opacity="0.29"/>
<path d="M299.9 358.6 L301.0 358.9 L301.0 360.7 L299.9 360.4 Z" fill="#3f6f78" opacity="0.27"/>
<path d="M301.5 359.1 L302.6 359.4 L302.6 361.1 L301.5 360.8 Z" fill="#efe9d4" opacity="0.25"/>
<path d="M303.1 359.5 L304.2 359.9 L304.2 361.6 L303.1 361.3 Z" fill="#d2ccb4" opacity="0.24"/>
<path d="M306.3 360.5 L307.4 360.8 L307.4 362.5 L306.3 362.1 Z" fill="#3f6f78" opacity="0.24"/>
<path d="M307.9 361.0 L309.0 361.3 L309.0 362.9 L307.9 362.6 Z" fill="#e4dcc0" opacity="0.24"/>
<path d="M309.5 361.5 L310.6 361.8 L310.6 363.3 L309.5 363.0 Z" fill="#d2ccb4" opacity="0.24"/>
<path d="M232 342.0 L312 364.0" stroke="#9dbcbc" stroke-width="1.1" opacity="0.9"/>
<path d="M232.0 344.7 L236.7 345.9 L236.7 349.0 L232.0 347.9 Z" fill="#3f6f78" opacity="0.95"/>
<path d="M237.2 346.0 L241.6 347.2 L241.6 350.2 L237.2 349.1 Z" fill="#3f6f78" opacity="0.90"/>
<path d="M242.1 347.3 L246.2 348.3 L246.2 351.3 L242.1 350.3 Z" fill="#efe9d4" opacity="0.85"/>
<path d="M246.7 348.5 L250.5 349.5 L250.5 352.3 L246.7 351.4 Z" fill="#efe9d4" opacity="0.80"/>
<path d="M255.1 350.6 L258.4 351.5 L258.4 354.1 L255.1 353.3 Z" fill="#e4dcc0" opacity="0.72"/>
<path d="M258.9 351.6 L262.0 352.4 L262.0 355.0 L258.9 354.2 Z" fill="#d2ccb4" opacity="0.68"/>
<path d="M262.5 352.5 L265.3 353.3 L265.3 355.8 L262.5 355.1 Z" fill="#e4dcc0" opacity="0.65"/>
<path d="M265.8 353.4 L268.5 354.1 L268.5 356.5 L265.8 355.9 Z" fill="#c4cec8" opacity="0.61"/>
<path d="M269.0 354.2 L271.5 354.8 L271.5 357.2 L269.0 356.6 Z" fill="#b9c6c2" opacity="0.58"/>
<path d="M272.0 355.0 L274.3 355.6 L274.3 357.9 L272.0 357.3 Z" fill="#c4cec8" opacity="0.55"/>
<path d="M277.4 356.4 L279.4 356.9 L279.4 359.1 L277.4 358.6 Z" fill="#d8641e" opacity="0.50"/>
<path d="M282.2 357.6 L283.9 358.0 L283.9 360.2 L282.2 359.8 Z" fill="#c9501a" opacity="0.45"/>
<path d="M284.4 358.2 L286.0 358.6 L286.0 360.6 L284.4 360.3 Z" fill="#3f6f78" opacity="0.43"/>
<path d="M286.5 358.7 L287.9 359.1 L287.9 361.1 L286.5 360.8 Z" fill="#3f6f78" opacity="0.41"/>
<path d="M288.4 359.2 L289.7 359.5 L289.7 361.5 L288.4 361.2 Z" fill="#c4cec8" opacity="0.39"/>
<path d="M291.9 360.1 L293.0 360.4 L293.0 362.3 L291.9 362.0 Z" fill="#d2ccb4" opacity="0.35"/>
<path d="M293.5 360.5 L294.6 360.8 L294.6 362.7 L293.5 362.4 Z" fill="#e4dcc0" opacity="0.33"/>
<path d="M295.1 360.9 L296.2 361.2 L296.2 363.1 L295.1 362.8 Z" fill="#e4dcc0" opacity="0.32"/>
<path d="M296.7 361.3 L297.8 361.6 L297.8 363.4 L296.7 363.2 Z" fill="#e07a2a" opacity="0.30"/>
<path d="M298.3 361.7 L299.4 362.0 L299.4 363.8 L298.3 363.6 Z" fill="#efe9d4" opacity="0.29"/>
<path d="M299.9 362.1 L301.0 362.4 L301.0 364.2 L299.9 363.9 Z" fill="#3f6f78" opacity="0.27"/>
<path d="M301.5 362.6 L302.6 362.8 L302.6 364.6 L301.5 364.3 Z" fill="#b9c6c2" opacity="0.25"/>
<path d="M304.7 363.4 L305.8 363.7 L305.8 365.3 L304.7 365.1 Z" fill="#d2ccb4" opacity="0.24"/>
<path d="M306.3 363.8 L307.4 364.1 L307.4 365.7 L306.3 365.4 Z" fill="#d8641e" opacity="0.24"/>
<path d="M307.9 364.2 L309.0 364.5 L309.0 366.1 L307.9 365.8 Z" fill="#d2ccb4" opacity="0.24"/>
<path d="M309.5 364.6 L310.6 364.9 L310.6 366.5 L309.5 366.2 Z" fill="#efe9d4" opacity="0.24"/>
<path d="M311.1 365.0 L312.2 365.3 L312.2 366.8 L311.1 366.6 Z" fill="#e4dcc0" opacity="0.24"/>
<path d="M232 348.4 L312 367.0" stroke="#9dbcbc" stroke-width="1.1" opacity="0.9"/>
<path d="M232.0 351.1 L236.7 352.1 L236.7 355.2 L232.0 354.3 Z" fill="#b9c6c2" opacity="0.95"/>
<path d="M237.2 352.2 L241.6 353.2 L241.6 356.2 L237.2 355.3 Z" fill="#e4dcc0" opacity="0.90"/>
<path d="M242.1 353.3 L246.2 354.2 L246.2 357.1 L242.1 356.3 Z" fill="#e07a2a" opacity="0.85"/>
<path d="M246.7 354.3 L250.5 355.1 L250.5 357.9 L246.7 357.2 Z" fill="#3f6f78" opacity="0.80"/>
<path d="M251.0 355.2 L254.6 356.0 L254.6 358.7 L251.0 358.0 Z" fill="#e07a2a" opacity="0.76"/>
<path d="M255.1 356.1 L258.4 356.8 L258.4 359.4 L255.1 358.8 Z" fill="#e4dcc0" opacity="0.72"/>
<path d="M258.9 356.9 L262.0 357.5 L262.0 360.1 L258.9 359.5 Z" fill="#e4dcc0" opacity="0.68"/>
<path d="M262.5 357.7 L265.3 358.3 L265.3 360.8 L262.5 360.2 Z" fill="#d2ccb4" opacity="0.65"/>
<path d="M265.8 358.4 L268.5 359.0 L268.5 361.4 L265.8 360.9 Z" fill="#efe9d4" opacity="0.61"/>
<path d="M269.0 359.1 L271.5 359.6 L271.5 362.0 L269.0 361.5 Z" fill="#b9c6c2" opacity="0.58"/>
<path d="M272.0 359.7 L274.3 360.2 L274.3 362.5 L272.0 362.1 Z" fill="#c4cec8" opacity="0.55"/>
<path d="M277.4 360.9 L279.4 361.3 L279.4 363.5 L277.4 363.1 Z" fill="#efe9d4" opacity="0.50"/>
<path d="M282.2 361.9 L283.9 362.3 L283.9 364.4 L282.2 364.1 Z" fill="#efe9d4" opacity="0.45"/>
<path d="M284.4 362.4 L286.0 362.7 L286.0 364.8 L284.4 364.5 Z" fill="#b9c6c2" opacity="0.43"/>
<path d="M286.5 362.8 L287.9 363.1 L287.9 365.2 L286.5 364.9 Z" fill="#b9c6c2" opacity="0.41"/>
<path d="M288.4 363.2 L289.7 363.5 L289.7 365.5 L288.4 365.2 Z" fill="#c4cec8" opacity="0.39"/>
<path d="M290.2 363.6 L291.4 363.9 L291.4 365.8 L290.2 365.6 Z" fill="#d2ccb4" opacity="0.37"/>
<path d="M291.9 364.0 L293.0 364.2 L293.0 366.1 L291.9 365.9 Z" fill="#d2ccb4" opacity="0.35"/>
<path d="M293.5 364.3 L294.6 364.6 L294.6 366.5 L293.5 366.2 Z" fill="#efe9d4" opacity="0.33"/>
<path d="M296.7 365.0 L297.8 365.3 L297.8 367.1 L296.7 366.9 Z" fill="#b9c6c2" opacity="0.30"/>
<path d="M298.3 365.4 L299.4 365.6 L299.4 367.4 L298.3 367.2 Z" fill="#c4cec8" opacity="0.29"/>
<path d="M299.9 365.7 L301.0 365.9 L301.0 367.7 L299.9 367.5 Z" fill="#efe9d4" opacity="0.27"/>
<path d="M303.1 366.4 L304.2 366.6 L304.2 368.3 L303.1 368.1 Z" fill="#3f6f78" opacity="0.24"/>
<path d="M304.7 366.7 L305.8 367.0 L305.8 368.6 L304.7 368.4 Z" fill="#b9c6c2" opacity="0.24"/>
<path d="M306.3 367.1 L307.4 367.3 L307.4 368.9 L306.3 368.7 Z" fill="#d2ccb4" opacity="0.24"/>
<path d="M307.9 367.4 L309.0 367.7 L309.0 369.3 L307.9 369.0 Z" fill="#e4dcc0" opacity="0.24"/>
<path d="M309.5 367.8 L310.6 368.0 L310.6 369.6 L309.5 369.4 Z" fill="#d2ccb4" opacity="0.24"/>
<path d="M311.1 368.1 L312.2 368.4 L312.2 369.9 L311.1 369.7 Z" fill="#d2ccb4" opacity="0.24"/>
<path d="M232 354.8 L312 370.1" stroke="#9dbcbc" stroke-width="1.1" opacity="0.9"/>
<path d="M232.0 357.5 L236.7 358.3 L236.7 361.4 L232.0 360.7 Z" fill="#d2ccb4" opacity="0.95"/>
<path d="M237.2 358.4 L241.6 359.2 L241.6 362.2 L237.2 361.5 Z" fill="#d2ccb4" opacity="0.90"/>
<path d="M242.1 359.3 L246.2 360.0 L246.2 362.9 L242.1 362.2 Z" fill="#d2ccb4" opacity="0.85"/>
<path d="M246.7 360.0 L250.5 360.7 L250.5 363.5 L246.7 362.9 Z" fill="#b9c6c2" opacity="0.80"/>
<path d="M251.0 360.8 L254.6 361.4 L254.6 364.1 L251.0 363.6 Z" fill="#c4cec8" opacity="0.76"/>
<path d="M255.1 361.5 L258.4 362.1 L258.4 364.7 L255.1 364.2 Z" fill="#d2ccb4" opacity="0.72"/>
<path d="M258.9 362.2 L262.0 362.7 L262.0 365.3 L258.9 364.8 Z" fill="#3f6f78" opacity="0.68"/>
<path d="M262.5 362.8 L265.3 363.3 L265.3 365.8 L262.5 365.3 Z" fill="#3f6f78" opacity="0.65"/>
<path d="M265.8 363.4 L268.5 363.8 L268.5 366.3 L265.8 365.9 Z" fill="#3f6f78" opacity="0.61"/>
<path d="M269.0 363.9 L271.5 364.3 L271.5 366.7 L269.0 366.3 Z" fill="#d2ccb4" opacity="0.58"/>
<path d="M272.0 364.4 L274.3 364.8 L274.3 367.1 L272.0 366.8 Z" fill="#3f6f78" opacity="0.55"/>
<path d="M274.8 364.9 L276.9 365.3 L276.9 367.5 L274.8 367.2 Z" fill="#c4cec8" opacity="0.52"/>
<path d="M277.4 365.4 L279.4 365.7 L279.4 367.9 L277.4 367.6 Z" fill="#3f6f78" opacity="0.50"/>
<path d="M279.9 365.8 L281.7 366.1 L281.7 368.3 L279.9 368.0 Z" fill="#c4cec8" opacity="0.47"/>
<path d="M282.2 366.2 L283.9 366.5 L283.9 368.6 L282.2 368.4 Z" fill="#d2ccb4" opacity="0.45"/>
<path d="M284.4 366.6 L286.0 366.8 L286.0 368.9 L284.4 368.7 Z" fill="#b9c6c2" opacity="0.43"/>
<path d="M286.5 366.9 L287.9 367.2 L287.9 369.2 L286.5 369.0 Z" fill="#efe9d4" opacity="0.41"/>
<path d="M288.4 367.3 L289.7 367.5 L289.7 369.5 L288.4 369.3 Z" fill="#c4cec8" opacity="0.39"/>
<path d="M290.2 367.6 L291.4 367.8 L291.4 369.8 L290.2 369.6 Z" fill="#3f6f78" opacity="0.37"/>
<path d="M293.5 368.2 L294.6 368.3 L294.6 370.2 L293.5 370.1 Z" fill="#c4cec8" opacity="0.33"/>
<path d="M295.1 368.4 L296.2 368.6 L296.2 370.5 L295.1 370.3 Z" fill="#e07a2a" opacity="0.32"/>
<path d="M296.7 368.7 L297.8 368.9 L297.8 370.7 L296.7 370.6 Z" fill="#c4cec8" opacity="0.30"/>
<path d="M298.3 369.0 L299.4 369.2 L299.4 371.0 L298.3 370.8 Z" fill="#3f6f78" opacity="0.29"/>
<path d="M299.9 369.3 L301.0 369.5 L301.0 371.2 L299.9 371.0 Z" fill="#d2ccb4" opacity="0.27"/>
<path d="M301.5 369.5 L302.6 369.7 L302.6 371.5 L301.5 371.3 Z" fill="#e4dcc0" opacity="0.25"/>
<path d="M303.1 369.8 L304.2 370.0 L304.2 371.7 L303.1 371.5 Z" fill="#e07a2a" opacity="0.24"/>
<path d="M304.7 370.1 L305.8 370.3 L305.8 371.9 L304.7 371.8 Z" fill="#efe9d4" opacity="0.24"/>
<path d="M306.3 370.4 L307.4 370.6 L307.4 372.2 L306.3 372.0 Z" fill="#e07a2a" opacity="0.24"/>
<path d="M307.9 370.7 L309.0 370.8 L309.0 372.4 L307.9 372.3 Z" fill="#e07a2a" opacity="0.24"/>
<path d="M311.1 371.2 L312.2 371.4 L312.2 372.9 L311.1 372.8 Z" fill="#efe9d4" opacity="0.24"/>
<path d="M232 361.2 L312 373.1" stroke="#9dbcbc" stroke-width="1.1" opacity="0.9"/>
<path d="M232.0 363.9 L236.7 364.5 L236.7 367.6 L232.0 367.1 Z" fill="#d8641e" opacity="0.95"/>
<path d="M242.1 365.2 L246.2 365.8 L246.2 368.7 L242.1 368.2 Z" fill="#c4cec8" opacity="0.85"/>
<path d="M246.7 365.8 L250.5 366.3 L250.5 369.1 L246.7 368.7 Z" fill="#d8641e" opacity="0.80"/>
<path d="M251.0 366.4 L254.6 366.9 L254.6 369.6 L251.0 369.2 Z" fill="#d2ccb4" opacity="0.76"/>
<path d="M255.1 366.9 L258.4 367.4 L258.4 370.0 L255.1 369.7 Z" fill="#b9c6c2" opacity="0.72"/>
<path d="M262.5 367.9 L265.3 368.3 L265.3 370.8 L262.5 370.5 Z" fill="#e07a2a" opacity="0.65"/>
<path d="M265.8 368.3 L268.5 368.7 L268.5 371.1 L265.8 370.8 Z" fill="#e4dcc0" opacity="0.61"/>
<path d="M269.0 368.8 L271.5 369.1 L271.5 371.5 L269.0 371.2 Z" fill="#3f6f78" opacity="0.58"/>
<path d="M272.0 369.2 L274.3 369.5 L274.3 371.8 L272.0 371.5 Z" fill="#c4cec8" opacity="0.55"/>
<path d="M274.8 369.5 L276.9 369.8 L276.9 372.1 L274.8 371.8 Z" fill="#b9c6c2" opacity="0.52"/>
<path d="M277.4 369.9 L279.4 370.1 L279.4 372.3 L277.4 372.1 Z" fill="#e4dcc0" opacity="0.50"/>
<path d="M279.9 370.2 L281.7 370.4 L281.7 372.6 L279.9 372.4 Z" fill="#d2ccb4" opacity="0.47"/>
<path d="M284.4 370.8 L286.0 371.0 L286.0 373.1 L284.4 372.9 Z" fill="#d2ccb4" opacity="0.43"/>
<path d="M286.5 371.1 L287.9 371.2 L287.9 373.3 L286.5 373.1 Z" fill="#d2ccb4" opacity="0.41"/>
<path d="M288.4 371.3 L289.7 371.5 L289.7 373.5 L288.4 373.3 Z" fill="#efe9d4" opacity="0.39"/>
<path d="M290.2 371.5 L291.4 371.7 L291.4 373.7 L290.2 373.5 Z" fill="#b9c6c2" opacity="0.37"/>
<path d="M291.9 371.8 L293.0 371.9 L293.0 373.8 L291.9 373.7 Z" fill="#d2ccb4" opacity="0.35"/>
<path d="M293.5 372.0 L294.6 372.1 L294.6 374.0 L293.5 373.9 Z" fill="#efe9d4" opacity="0.33"/>
<path d="M295.1 372.2 L296.2 372.3 L296.2 374.2 L295.1 374.1 Z" fill="#b9c6c2" opacity="0.32"/>
<path d="M296.7 372.4 L297.8 372.5 L297.8 374.4 L296.7 374.3 Z" fill="#efe9d4" opacity="0.30"/>
<path d="M298.3 372.6 L299.4 372.8 L299.4 374.5 L298.3 374.4 Z" fill="#b9c6c2" opacity="0.29"/>
<path d="M301.5 373.0 L302.6 373.2 L302.6 374.9 L301.5 374.8 Z" fill="#e4dcc0" opacity="0.25"/>
<path d="M303.1 373.2 L304.2 373.4 L304.2 375.1 L303.1 375.0 Z" fill="#d2ccb4" opacity="0.24"/>
<path d="M304.7 373.5 L305.8 373.6 L305.8 375.3 L304.7 375.1 Z" fill="#b9c6c2" opacity="0.24"/>
<path d="M306.3 373.7 L307.4 373.8 L307.4 375.4 L306.3 375.3 Z" fill="#d2ccb4" opacity="0.24"/>
<path d="M307.9 373.9 L309.0 374.0 L309.0 375.6 L307.9 375.5 Z" fill="#b9c6c2" opacity="0.24"/>
<path d="M309.5 374.1 L310.6 374.2 L310.6 375.8 L309.5 375.7 Z" fill="#c4cec8" opacity="0.24"/>
<path d="M311.1 374.3 L312.2 374.4 L312.2 376.0 L311.1 375.8 Z" fill="#c4cec8" opacity="0.24"/>
<path d="M232 367.6 L312 376.2" stroke="#9dbcbc" stroke-width="1.1" opacity="0.9"/>
<path d="M232.0 370.3 L236.7 370.7 L236.7 373.8 L232.0 373.5 Z" fill="#3f6f78" opacity="0.95"/>
<path d="M237.2 370.8 L241.6 371.2 L241.6 374.2 L237.2 373.9 Z" fill="#c4cec8" opacity="0.90"/>
<path d="M242.1 371.2 L246.2 371.6 L246.2 374.5 L242.1 374.2 Z" fill="#efe9d4" opacity="0.85"/>
<path d="M246.7 371.6 L250.5 372.0 L250.5 374.8 L246.7 374.5 Z" fill="#d2ccb4" opacity="0.80"/>
<path d="M251.0 372.0 L254.6 372.3 L254.6 375.1 L251.0 374.8 Z" fill="#d2ccb4" opacity="0.76"/>
<path d="M255.1 372.4 L258.4 372.7 L258.4 375.3 L255.1 375.1 Z" fill="#c4cec8" opacity="0.72"/>
<path d="M262.5 373.0 L265.3 373.3 L265.3 375.8 L262.5 375.6 Z" fill="#d2ccb4" opacity="0.65"/>
<path d="M265.8 373.3 L268.5 373.6 L268.5 376.0 L265.8 375.8 Z" fill="#d2ccb4" opacity="0.61"/>
<path d="M269.0 373.6 L271.5 373.8 L271.5 376.2 L269.0 376.0 Z" fill="#d8641e" opacity="0.58"/>
<path d="M272.0 373.9 L274.3 374.1 L274.3 376.4 L272.0 376.2 Z" fill="#e07a2a" opacity="0.55"/>
<path d="M274.8 374.1 L276.9 374.3 L276.9 376.6 L274.8 376.4 Z" fill="#efe9d4" opacity="0.52"/>
<path d="M277.4 374.4 L279.4 374.5 L279.4 376.8 L277.4 376.6 Z" fill="#3f6f78" opacity="0.50"/>
<path d="M279.9 374.6 L281.7 374.8 L281.7 376.9 L279.9 376.8 Z" fill="#c4cec8" opacity="0.47"/>
<path d="M284.4 375.0 L286.0 375.1 L286.0 377.2 L284.4 377.1 Z" fill="#d2ccb4" opacity="0.43"/>
<path d="M286.5 375.2 L287.9 375.3 L287.9 377.3 L286.5 377.2 Z" fill="#c9501a" opacity="0.41"/>
<path d="M288.4 375.4 L289.7 375.5 L289.7 377.5 L288.4 377.4 Z" fill="#efe9d4" opacity="0.39"/>
<path d="M290.2 375.5 L291.4 375.6 L291.4 377.6 L290.2 377.5 Z" fill="#efe9d4" opacity="0.37"/>
<path d="M291.9 375.7 L293.0 375.8 L293.0 377.7 L291.9 377.6 Z" fill="#d2ccb4" opacity="0.35"/>
<path d="M293.5 375.8 L294.6 375.9 L294.6 377.8 L293.5 377.7 Z" fill="#3f6f78" opacity="0.33"/>
<path d="M295.1 376.0 L296.2 376.1 L296.2 377.9 L295.1 377.8 Z" fill="#c4cec8" opacity="0.32"/>
<path d="M296.7 376.1 L297.8 376.2 L297.8 378.0 L296.7 377.9 Z" fill="#b9c6c2" opacity="0.30"/>
<path d="M298.3 376.2 L299.4 376.3 L299.4 378.1 L298.3 378.1 Z" fill="#e4dcc0" opacity="0.29"/>
<path d="M301.5 376.5 L302.6 376.6 L302.6 378.3 L301.5 378.3 Z" fill="#c9501a" opacity="0.25"/>
<path d="M303.1 376.7 L304.2 376.8 L304.2 378.5 L303.1 378.4 Z" fill="#d2ccb4" opacity="0.24"/>
<path d="M304.7 376.8 L305.8 376.9 L305.8 378.6 L304.7 378.5 Z" fill="#b9c6c2" opacity="0.24"/>
<path d="M307.9 377.1 L309.0 377.2 L309.0 378.8 L307.9 378.7 Z" fill="#3f6f78" opacity="0.24"/>
<path d="M309.5 377.2 L310.6 377.3 L310.6 378.9 L309.5 378.8 Z" fill="#b9c6c2" opacity="0.24"/>
<path d="M311.1 377.4 L312.2 377.5 L312.2 379.0 L311.1 378.9 Z" fill="#d8641e" opacity="0.24"/>
<path d="M232 374.0 L312 379.2" stroke="#9dbcbc" stroke-width="1.1" opacity="0.9"/>
<path d="M232.0 376.7 L236.7 376.9 L236.7 380.0 L232.0 379.9 Z" fill="#c9501a" opacity="0.95"/>
<path d="M237.2 377.0 L241.6 377.2 L241.6 380.2 L237.2 380.0 Z" fill="#e4dcc0" opacity="0.90"/>
<path d="M242.1 377.2 L246.2 377.4 L246.2 380.3 L242.1 380.2 Z" fill="#b9c6c2" opacity="0.85"/>
<path d="M246.7 377.4 L250.5 377.6 L250.5 380.4 L246.7 380.3 Z" fill="#c9501a" opacity="0.80"/>
<path d="M251.0 377.6 L254.6 377.8 L254.6 380.5 L251.0 380.4 Z" fill="#c4cec8" opacity="0.76"/>
<path d="M255.1 377.8 L258.4 378.0 L258.4 380.6 L255.1 380.5 Z" fill="#c4cec8" opacity="0.72"/>
<path d="M258.9 378.0 L262.0 378.1 L262.0 380.7 L258.9 380.6 Z" fill="#c4cec8" opacity="0.68"/>
<path d="M262.5 378.2 L265.3 378.3 L265.3 380.8 L262.5 380.7 Z" fill="#efe9d4" opacity="0.65"/>
<path d="M265.8 378.3 L268.5 378.4 L268.5 380.9 L265.8 380.8 Z" fill="#c4cec8" opacity="0.61"/>
<path d="M269.0 378.5 L271.5 378.6 L271.5 381.0 L269.0 380.9 Z" fill="#e4dcc0" opacity="0.58"/>
<path d="M272.0 378.6 L274.3 378.7 L274.3 381.0 L272.0 381.0 Z" fill="#3f6f78" opacity="0.55"/>
<path d="M277.4 378.9 L279.4 379.0 L279.4 381.2 L277.4 381.1 Z" fill="#b9c6c2" opacity="0.50"/>
<path d="M279.9 379.0 L281.7 379.1 L281.7 381.2 L279.9 381.2 Z" fill="#3f6f78" opacity="0.47"/>
<path d="M282.2 379.1 L283.9 379.2 L283.9 381.3 L282.2 381.2 Z" fill="#d2ccb4" opacity="0.45"/>
<path d="M284.4 379.2 L286.0 379.3 L286.0 381.3 L284.4 381.3 Z" fill="#c9501a" opacity="0.43"/>
<path d="M286.5 379.3 L287.9 379.4 L287.9 381.4 L286.5 381.4 Z" fill="#c4cec8" opacity="0.41"/>
<path d="M288.4 379.4 L289.7 379.5 L289.7 381.4 L288.4 381.4 Z" fill="#b9c6c2" opacity="0.39"/>
<path d="M290.2 379.5 L291.4 379.5 L291.4 381.5 L290.2 381.5 Z" fill="#e07a2a" opacity="0.37"/>
<path d="M291.9 379.6 L293.0 379.6 L293.0 381.5 L291.9 381.5 Z" fill="#e4dcc0" opacity="0.35"/>
<path d="M295.1 379.7 L296.2 379.8 L296.2 381.6 L295.1 381.6 Z" fill="#d8641e" opacity="0.32"/>
<path d="M296.7 379.8 L297.8 379.8 L297.8 381.7 L296.7 381.6 Z" fill="#e4dcc0" opacity="0.30"/>
<path d="M298.3 379.9 L299.4 379.9 L299.4 381.7 L298.3 381.7 Z" fill="#3f6f78" opacity="0.29"/>
<path d="M299.9 379.9 L301.0 380.0 L301.0 381.8 L299.9 381.7 Z" fill="#e4dcc0" opacity="0.27"/>
<path d="M301.5 380.0 L302.6 380.1 L302.6 381.8 L301.5 381.8 Z" fill="#c4cec8" opacity="0.25"/>
<path d="M304.7 380.2 L305.8 380.2 L305.8 381.9 L304.7 381.9 Z" fill="#efe9d4" opacity="0.24"/>
<path d="M306.3 380.2 L307.4 380.3 L307.4 381.9 L306.3 381.9 Z" fill="#e4dcc0" opacity="0.24"/>
<path d="M307.9 380.3 L309.0 380.4 L309.0 382.0 L307.9 381.9 Z" fill="#efe9d4" opacity="0.24"/>
<path d="M309.5 380.4 L310.6 380.5 L310.6 382.0 L309.5 382.0 Z" fill="#c4cec8" opacity="0.24"/>
<path d="M311.1 380.5 L312.2 380.5 L312.2 382.1 L311.1 382.0 Z" fill="#e07a2a" opacity="0.24"/>
<path d="M232 380.4 L312 382.3" stroke="#9dbcbc" stroke-width="1.1" opacity="0.9"/>
<path d="M232.0 383.1 L236.7 383.1 L236.7 386.2 L232.0 386.3 Z" fill="#d8641e" opacity="0.95"/>
<path d="M242.1 383.2 L246.2 383.2 L246.2 386.1 L242.1 386.2 Z" fill="#e07a2a" opacity="0.85"/>
<path d="M251.0 383.2 L254.6 383.2 L254.6 386.0 L251.0 386.0 Z" fill="#e4dcc0" opacity="0.76"/>
<path d="M255.1 383.2 L258.4 383.3 L258.4 385.9 L255.1 386.0 Z" fill="#3f6f78" opacity="0.72"/>
<path d="M258.9 383.3 L262.0 383.3 L262.0 385.9 L258.9 385.9 Z" fill="#e4dcc0" opacity="0.68"/>
<path d="M262.5 383.3 L265.3 383.3 L265.3 385.8 L262.5 385.8 Z" fill="#b9c6c2" opacity="0.65"/>
<path d="M265.8 383.3 L268.5 383.3 L268.5 385.8 L265.8 385.8 Z" fill="#c9501a" opacity="0.61"/>
<path d="M272.0 383.3 L274.3 383.4 L274.3 385.7 L272.0 385.7 Z" fill="#c4cec8" opacity="0.55"/>
<path d="M274.8 383.4 L276.9 383.4 L276.9 385.6 L274.8 385.7 Z" fill="#d2ccb4" opacity="0.52"/>
<path d="M277.4 383.4 L279.4 383.4 L279.4 385.6 L277.4 385.6 Z" fill="#efe9d4" opacity="0.50"/>
<path d="M279.9 383.4 L281.7 383.4 L281.7 385.6 L279.9 385.6 Z" fill="#efe9d4" opacity="0.47"/>
<path d="M282.2 383.4 L283.9 383.4 L283.9 385.5 L282.2 385.5 Z" fill="#b9c6c2" opacity="0.45"/>
<path d="M284.4 383.4 L286.0 383.4 L286.0 385.5 L284.4 385.5 Z" fill="#3f6f78" opacity="0.43"/>
<path d="M286.5 383.4 L287.9 383.4 L287.9 385.5 L286.5 385.5 Z" fill="#b9c6c2" opacity="0.41"/>
<path d="M288.4 383.4 L289.7 383.4 L289.7 385.4 L288.4 385.5 Z" fill="#d2ccb4" opacity="0.39"/>
<path d="M291.9 383.5 L293.0 383.5 L293.0 385.4 L291.9 385.4 Z" fill="#c9501a" opacity="0.35"/>
<path d="M293.5 383.5 L294.6 383.5 L294.6 385.4 L293.5 385.4 Z" fill="#efe9d4" opacity="0.33"/>
<path d="M295.1 383.5 L296.2 383.5 L296.2 385.3 L295.1 385.4 Z" fill="#d2ccb4" opacity="0.32"/>
<path d="M296.7 383.5 L297.8 383.5 L297.8 385.3 L296.7 385.3 Z" fill="#c4cec8" opacity="0.30"/>
<path d="M298.3 383.5 L299.4 383.5 L299.4 385.3 L298.3 385.3 Z" fill="#e07a2a" opacity="0.29"/>
<path d="M301.5 383.5 L302.6 383.5 L302.6 385.2 L301.5 385.3 Z" fill="#3f6f78" opacity="0.25"/>
<path d="M303.1 383.5 L304.2 383.5 L304.2 385.2 L303.1 385.2 Z" fill="#e4dcc0" opacity="0.24"/>
<path d="M306.3 383.5 L307.4 383.5 L307.4 385.2 L306.3 385.2 Z" fill="#e07a2a" opacity="0.24"/>
<path d="M307.9 383.5 L309.0 383.6 L309.0 385.1 L307.9 385.2 Z" fill="#c4cec8" opacity="0.24"/>
<path d="M309.5 383.6 L310.6 383.6 L310.6 385.1 L309.5 385.1 Z" fill="#c4cec8" opacity="0.24"/>
<path d="M311.1 383.6 L312.2 383.6 L312.2 385.1 L311.1 385.1 Z" fill="#e4dcc0" opacity="0.24"/>
<path d="M232 386.8 L312 385.3" stroke="#9dbcbc" stroke-width="1.1" opacity="0.9"/>
<path d="M232.0 389.5 L236.7 389.3 L236.7 392.4 L232.0 392.7 Z" fill="#e4dcc0" opacity="0.95"/>
<path d="M237.2 389.3 L241.6 389.2 L241.6 392.2 L237.2 392.4 Z" fill="#c4cec8" opacity="0.90"/>
<path d="M246.7 389.0 L250.5 388.8 L250.5 391.7 L246.7 391.9 Z" fill="#c9501a" opacity="0.80"/>
<path d="M251.0 388.8 L254.6 388.7 L254.6 391.4 L251.0 391.6 Z" fill="#efe9d4" opacity="0.76"/>
<path d="M255.1 388.7 L258.4 388.6 L258.4 391.2 L255.1 391.4 Z" fill="#e4dcc0" opacity="0.72"/>
<path d="M258.9 388.5 L262.0 388.4 L262.0 391.0 L258.9 391.2 Z" fill="#c4cec8" opacity="0.68"/>
<path d="M262.5 388.4 L265.3 388.3 L265.3 390.8 L262.5 391.0 Z" fill="#efe9d4" opacity="0.65"/>
<path d="M265.8 388.3 L268.5 388.2 L268.5 390.6 L265.8 390.8 Z" fill="#c4cec8" opacity="0.61"/>
<path d="M269.0 388.2 L271.5 388.1 L271.5 390.5 L269.0 390.6 Z" fill="#3f6f78" opacity="0.58"/>
<path d="M272.0 388.1 L274.3 388.0 L274.3 390.3 L272.0 390.4 Z" fill="#c9501a" opacity="0.55"/>
<path d="M274.8 388.0 L276.9 387.9 L276.9 390.1 L274.8 390.3 Z" fill="#d2ccb4" opacity="0.52"/>
<path d="M277.4 387.9 L279.4 387.8 L279.4 390.0 L277.4 390.1 Z" fill="#c4cec8" opacity="0.50"/>
<path d="M279.9 387.8 L281.7 387.7 L281.7 389.9 L279.9 390.0 Z" fill="#c9501a" opacity="0.47"/>
<path d="M282.2 387.7 L283.9 387.6 L283.9 389.8 L282.2 389.8 Z" fill="#c4cec8" opacity="0.45"/>
<path d="M284.4 387.6 L286.0 387.6 L286.0 389.6 L284.4 389.7 Z" fill="#d2ccb4" opacity="0.43"/>
<path d="M286.5 387.5 L287.9 387.5 L287.9 389.5 L286.5 389.6 Z" fill="#b9c6c2" opacity="0.41"/>
<path d="M288.4 387.5 L289.7 387.4 L289.7 389.4 L288.4 389.5 Z" fill="#efe9d4" opacity="0.39"/>
<path d="M290.2 387.4 L291.4 387.4 L291.4 389.3 L290.2 389.4 Z" fill="#c4cec8" opacity="0.37"/>
<path d="M295.1 387.2 L296.2 387.2 L296.2 389.1 L295.1 389.1 Z" fill="#d8641e" opacity="0.32"/>
<path d="M298.3 387.1 L299.4 387.1 L299.4 388.9 L298.3 388.9 Z" fill="#c4cec8" opacity="0.29"/>
<path d="M299.9 387.1 L301.0 387.0 L301.0 388.8 L299.9 388.8 Z" fill="#d2ccb4" opacity="0.27"/>
<path d="M303.1 386.9 L304.2 386.9 L304.2 388.6 L303.1 388.7 Z" fill="#b9c6c2" opacity="0.24"/>
<path d="M304.7 386.9 L305.8 386.8 L305.8 388.5 L304.7 388.6 Z" fill="#d2ccb4" opacity="0.24"/>
<path d="M306.3 386.8 L307.4 386.8 L307.4 388.4 L306.3 388.5 Z" fill="#e4dcc0" opacity="0.24"/>
<path d="M307.9 386.8 L309.0 386.7 L309.0 388.3 L307.9 388.4 Z" fill="#e07a2a" opacity="0.24"/>
<path d="M309.5 386.7 L310.6 386.7 L310.6 388.2 L309.5 388.3 Z" fill="#c9501a" opacity="0.24"/>
<path d="M311.1 386.7 L312.2 386.6 L312.2 388.1 L311.1 388.2 Z" fill="#c4cec8" opacity="0.24"/>
<path d="M232 393.2 L312 388.4" stroke="#9dbcbc" stroke-width="1.1" opacity="0.9"/>
<path d="M232.0 395.9 L236.7 395.5 L236.7 398.6 L232.0 399.1 Z" fill="#c9501a" opacity="0.95"/>
<path d="M242.1 395.1 L246.2 394.8 L246.2 397.7 L242.1 398.1 Z" fill="#d2ccb4" opacity="0.85"/>
<path d="M246.7 394.8 L250.5 394.5 L250.5 397.3 L246.7 397.7 Z" fill="#e4dcc0" opacity="0.80"/>
<path d="M251.0 394.4 L254.6 394.1 L254.6 396.9 L251.0 397.2 Z" fill="#e4dcc0" opacity="0.76"/>
<path d="M255.1 394.1 L258.4 393.9 L258.4 396.5 L255.1 396.8 Z" fill="#3f6f78" opacity="0.72"/>
<path d="M258.9 393.8 L262.0 393.6 L262.0 396.1 L258.9 396.5 Z" fill="#d2ccb4" opacity="0.68"/>
<path d="M262.5 393.5 L265.3 393.3 L265.3 395.8 L262.5 396.1 Z" fill="#e4dcc0" opacity="0.65"/>
<path d="M265.8 393.3 L268.5 393.1 L268.5 395.5 L265.8 395.8 Z" fill="#c4cec8" opacity="0.61"/>
<path d="M269.0 393.0 L271.5 392.8 L271.5 395.2 L269.0 395.5 Z" fill="#efe9d4" opacity="0.58"/>
<path d="M274.8 392.6 L276.9 392.4 L276.9 394.7 L274.8 394.9 Z" fill="#d2ccb4" opacity="0.52"/>
<path d="M277.4 392.4 L279.4 392.2 L279.4 394.4 L277.4 394.6 Z" fill="#efe9d4" opacity="0.50"/>
<path d="M279.9 392.2 L281.7 392.0 L281.7 394.2 L279.9 394.4 Z" fill="#efe9d4" opacity="0.47"/>
<path d="M284.4 391.8 L286.0 391.7 L286.0 393.8 L284.4 393.9 Z" fill="#b9c6c2" opacity="0.43"/>
<path d="M286.5 391.7 L287.9 391.6 L287.9 393.6 L286.5 393.7 Z" fill="#d8641e" opacity="0.41"/>
<path d="M288.4 391.5 L289.7 391.4 L289.7 393.4 L288.4 393.5 Z" fill="#d2ccb4" opacity="0.39"/>
<path d="M290.2 391.4 L291.4 391.3 L291.4 393.2 L290.2 393.4 Z" fill="#efe9d4" opacity="0.37"/>
<path d="M291.9 391.2 L293.0 391.2 L293.0 393.1 L291.9 393.2 Z" fill="#d2ccb4" opacity="0.35"/>
<path d="M295.1 391.0 L296.2 390.9 L296.2 392.8 L295.1 392.9 Z" fill="#c4cec8" opacity="0.32"/>
<path d="M296.7 390.9 L297.8 390.8 L297.8 392.6 L296.7 392.7 Z" fill="#d8641e" opacity="0.30"/>
<path d="M298.3 390.7 L299.4 390.7 L299.4 392.4 L298.3 392.6 Z" fill="#d8641e" opacity="0.29"/>
<path d="M299.9 390.6 L301.0 390.5 L301.0 392.3 L299.9 392.4 Z" fill="#b9c6c2" opacity="0.27"/>
<path d="M301.5 390.5 L302.6 390.4 L302.6 392.1 L301.5 392.2 Z" fill="#d2ccb4" opacity="0.25"/>
<path d="M306.3 390.1 L307.4 390.0 L307.4 391.7 L306.3 391.8 Z" fill="#c4cec8" opacity="0.24"/>
<path d="M307.9 390.0 L309.0 389.9 L309.0 391.5 L307.9 391.6 Z" fill="#d8641e" opacity="0.24"/>
<path d="M309.5 389.9 L310.6 389.8 L310.6 391.3 L309.5 391.5 Z" fill="#b9c6c2" opacity="0.24"/>
<path d="M311.1 389.7 L312.2 389.7 L312.2 391.2 L311.1 391.3 Z" fill="#e4dcc0" opacity="0.24"/>
<path d="M232 399.6 L312 391.5" stroke="#9dbcbc" stroke-width="1.1" opacity="0.9"/>
<path d="M232.0 402.3 L236.7 401.7 L236.7 404.8 L232.0 405.5 Z" fill="#efe9d4" opacity="0.95"/>
<path d="M237.2 401.7 L241.6 401.2 L241.6 404.2 L237.2 404.8 Z" fill="#c4cec8" opacity="0.90"/>
<path d="M246.7 400.5 L250.5 400.1 L250.5 402.9 L246.7 403.4 Z" fill="#efe9d4" opacity="0.80"/>
<path d="M251.0 400.0 L254.6 399.6 L254.6 402.3 L251.0 402.8 Z" fill="#c4cec8" opacity="0.76"/>
<path d="M255.1 399.5 L258.4 399.1 L258.4 401.8 L255.1 402.3 Z" fill="#e4dcc0" opacity="0.72"/>
<path d="M262.5 398.7 L265.3 398.3 L265.3 400.8 L262.5 401.2 Z" fill="#c4cec8" opacity="0.65"/>
<path d="M265.8 398.3 L268.5 397.9 L268.5 400.4 L265.8 400.7 Z" fill="#3f6f78" opacity="0.61"/>
<path d="M274.8 397.2 L276.9 396.9 L276.9 399.2 L274.8 399.5 Z" fill="#efe9d4" opacity="0.52"/>
<path d="M277.4 396.9 L279.4 396.6 L279.4 398.8 L277.4 399.1 Z" fill="#c4cec8" opacity="0.50"/>
<path d="M279.9 396.6 L281.7 396.4 L281.7 398.5 L279.9 398.8 Z" fill="#d8641e" opacity="0.47"/>
<path d="M284.4 396.0 L286.0 395.8 L286.0 397.9 L284.4 398.1 Z" fill="#3f6f78" opacity="0.43"/>
<path d="M288.4 395.6 L289.7 395.4 L289.7 397.4 L288.4 397.6 Z" fill="#efe9d4" opacity="0.39"/>
<path d="M290.2 395.3 L291.4 395.2 L291.4 397.2 L290.2 397.3 Z" fill="#efe9d4" opacity="0.37"/>
<path d="M291.9 395.1 L293.0 395.0 L293.0 396.9 L291.9 397.1 Z" fill="#c4cec8" opacity="0.35"/>
<path d="M293.5 394.9 L294.6 394.8 L294.6 396.7 L293.5 396.9 Z" fill="#c4cec8" opacity="0.33"/>
<path d="M295.1 394.8 L296.2 394.6 L296.2 396.5 L295.1 396.6 Z" fill="#c4cec8" opacity="0.32"/>
<path d="M296.7 394.6 L297.8 394.4 L297.8 396.3 L296.7 396.4 Z" fill="#efe9d4" opacity="0.30"/>
<path d="M298.3 394.4 L299.4 394.2 L299.4 396.0 L298.3 396.2 Z" fill="#d2ccb4" opacity="0.29"/>
<path d="M299.9 394.2 L301.0 394.0 L301.0 395.8 L299.9 396.0 Z" fill="#efe9d4" opacity="0.27"/>
<path d="M301.5 394.0 L302.6 393.9 L302.6 395.6 L301.5 395.7 Z" fill="#efe9d4" opacity="0.25"/>
<path d="M303.1 393.8 L304.2 393.7 L304.2 395.4 L303.1 395.5 Z" fill="#3f6f78" opacity="0.24"/>
<path d="M306.3 393.4 L307.4 393.3 L307.4 394.9 L306.3 395.1 Z" fill="#c4cec8" opacity="0.24"/>
<path d="M307.9 393.2 L309.0 393.1 L309.0 394.7 L307.9 394.8 Z" fill="#3f6f78" opacity="0.24"/>
<path d="M309.5 393.0 L310.6 392.9 L310.6 394.5 L309.5 394.6 Z" fill="#d8641e" opacity="0.24"/>
<path d="M311.1 392.8 L312.2 392.7 L312.2 394.2 L311.1 394.4 Z" fill="#e4dcc0" opacity="0.24"/>
<path d="M232 406.0 L312 394.5" stroke="#9dbcbc" stroke-width="1.1" opacity="0.9"/>
<path d="M232.0 408.7 L236.7 407.9 L236.7 411.0 L232.0 411.9 Z" fill="#b9c6c2" opacity="0.95"/>
<path d="M237.2 407.9 L241.6 407.2 L241.6 410.2 L237.2 411.0 Z" fill="#d2ccb4" opacity="0.90"/>
<path d="M246.7 406.3 L250.5 405.7 L250.5 408.5 L246.7 409.2 Z" fill="#e4dcc0" opacity="0.80"/>
<path d="M251.0 405.6 L254.6 405.1 L254.6 407.8 L251.0 408.4 Z" fill="#d2ccb4" opacity="0.76"/>
<path d="M255.1 405.0 L258.4 404.4 L258.4 407.1 L255.1 407.7 Z" fill="#e4dcc0" opacity="0.72"/>
<path d="M262.5 403.8 L265.3 403.3 L265.3 405.8 L262.5 406.3 Z" fill="#c4cec8" opacity="0.65"/>
<path d="M265.8 403.2 L268.5 402.8 L268.5 405.2 L265.8 405.7 Z" fill="#b9c6c2" opacity="0.61"/>
<path d="M272.0 402.2 L274.3 401.9 L274.3 404.2 L272.0 404.6 Z" fill="#3f6f78" opacity="0.55"/>
<path d="M274.8 401.8 L276.9 401.5 L276.9 403.7 L274.8 404.1 Z" fill="#efe9d4" opacity="0.52"/>
<path d="M277.4 401.4 L279.4 401.1 L279.4 403.3 L277.4 403.6 Z" fill="#c4cec8" opacity="0.50"/>
<path d="M279.9 401.0 L281.7 400.7 L281.7 402.8 L279.9 403.2 Z" fill="#e07a2a" opacity="0.47"/>
<path d="M282.2 400.6 L283.9 400.3 L283.9 402.4 L282.2 402.7 Z" fill="#e4dcc0" opacity="0.45"/>
<path d="M284.4 400.2 L286.0 400.0 L286.0 402.1 L284.4 402.3 Z" fill="#c4cec8" opacity="0.43"/>
<path d="M286.5 399.9 L287.9 399.7 L287.9 401.7 L286.5 402.0 Z" fill="#c9501a" opacity="0.41"/>
<path d="M288.4 399.6 L289.7 399.4 L289.7 401.4 L288.4 401.6 Z" fill="#d2ccb4" opacity="0.39"/>
<path d="M291.9 399.0 L293.0 398.9 L293.0 400.8 L291.9 401.0 Z" fill="#c9501a" opacity="0.35"/>
<path d="M293.5 398.8 L294.6 398.6 L294.6 400.5 L293.5 400.7 Z" fill="#d2ccb4" opacity="0.33"/>
<path d="M295.1 398.5 L296.2 398.3 L296.2 400.2 L295.1 400.4 Z" fill="#3f6f78" opacity="0.32"/>
<path d="M298.3 398.0 L299.4 397.8 L299.4 399.6 L298.3 399.8 Z" fill="#b9c6c2" opacity="0.29"/>
<path d="M301.5 397.5 L302.6 397.3 L302.6 399.0 L301.5 399.2 Z" fill="#d8641e" opacity="0.25"/>
<path d="M303.1 397.2 L304.2 397.0 L304.2 398.7 L303.1 398.9 Z" fill="#c4cec8" opacity="0.24"/>
<path d="M304.7 397.0 L305.8 396.8 L305.8 398.4 L304.7 398.6 Z" fill="#b9c6c2" opacity="0.24"/>
<path d="M307.9 396.4 L309.0 396.3 L309.0 397.9 L307.9 398.1 Z" fill="#efe9d4" opacity="0.24"/>
<path d="M309.5 396.2 L310.6 396.0 L310.6 397.6 L309.5 397.8 Z" fill="#d2ccb4" opacity="0.24"/>
<path d="M311.1 395.9 L312.2 395.8 L312.2 397.3 L311.1 397.5 Z" fill="#3f6f78" opacity="0.24"/>
<path d="M232 412.4 L312 397.6" stroke="#9dbcbc" stroke-width="1.1" opacity="0.9"/>
<path d="M232.0 415.1 L236.7 414.1 L236.7 417.3 L232.0 418.3 Z" fill="#e07a2a" opacity="0.95"/>
<path d="M237.2 414.0 L241.6 413.2 L241.6 416.2 L237.2 417.1 Z" fill="#e4dcc0" opacity="0.90"/>
<path d="M242.1 413.1 L246.2 412.2 L246.2 415.1 L242.1 416.0 Z" fill="#e07a2a" opacity="0.85"/>
<path d="M246.7 412.1 L250.5 411.3 L250.5 414.2 L246.7 415.0 Z" fill="#e07a2a" opacity="0.80"/>
<path d="M251.0 411.2 L254.6 410.5 L254.6 413.2 L251.0 414.0 Z" fill="#c9501a" opacity="0.76"/>
<path d="M255.1 410.4 L258.4 409.7 L258.4 412.4 L255.1 413.1 Z" fill="#e4dcc0" opacity="0.72"/>
<path d="M258.9 409.6 L262.0 409.0 L262.0 411.6 L258.9 412.3 Z" fill="#3f6f78" opacity="0.68"/>
<path d="M262.5 408.9 L265.3 408.3 L265.3 410.8 L262.5 411.5 Z" fill="#efe9d4" opacity="0.65"/>
<path d="M265.8 408.2 L268.5 407.7 L268.5 410.1 L265.8 410.7 Z" fill="#c4cec8" opacity="0.61"/>
<path d="M269.0 407.6 L271.5 407.1 L271.5 409.5 L269.0 410.0 Z" fill="#d8641e" opacity="0.58"/>
<path d="M272.0 407.0 L274.3 406.5 L274.3 408.8 L272.0 409.3 Z" fill="#efe9d4" opacity="0.55"/>
<path d="M274.8 406.4 L276.9 406.0 L276.9 408.2 L274.8 408.7 Z" fill="#c4cec8" opacity="0.52"/>
<path d="M277.4 405.9 L279.4 405.5 L279.4 407.7 L277.4 408.1 Z" fill="#e4dcc0" opacity="0.50"/>
<path d="M279.9 405.4 L281.7 405.0 L281.7 407.2 L279.9 407.6 Z" fill="#c9501a" opacity="0.47"/>
<path d="M282.2 404.9 L283.9 404.6 L283.9 406.7 L282.2 407.0 Z" fill="#efe9d4" opacity="0.45"/>
<path d="M284.4 404.4 L286.0 404.1 L286.0 406.2 L284.4 406.6 Z" fill="#e4dcc0" opacity="0.43"/>
<path d="M286.5 404.0 L287.9 403.7 L287.9 405.8 L286.5 406.1 Z" fill="#efe9d4" opacity="0.41"/>
<path d="M288.4 403.6 L289.7 403.4 L289.7 405.4 L288.4 405.7 Z" fill="#d2ccb4" opacity="0.39"/>
<path d="M290.2 403.3 L291.4 403.0 L291.4 405.0 L290.2 405.3 Z" fill="#efe9d4" opacity="0.37"/>
<path d="M291.9 402.9 L293.0 402.7 L293.0 404.6 L291.9 404.9 Z" fill="#d8641e" opacity="0.35"/>
<path d="M293.5 402.6 L294.6 402.4 L294.6 404.3 L293.5 404.5 Z" fill="#3f6f78" opacity="0.33"/>
<path d="M295.1 402.3 L296.2 402.0 L296.2 403.9 L295.1 404.2 Z" fill="#efe9d4" opacity="0.32"/>
<path d="M296.7 401.9 L297.8 401.7 L297.8 403.5 L296.7 403.8 Z" fill="#efe9d4" opacity="0.30"/>
<path d="M298.3 401.6 L299.4 401.4 L299.4 403.2 L298.3 403.4 Z" fill="#e4dcc0" opacity="0.29"/>
<path d="M299.9 401.3 L301.0 401.1 L301.0 402.8 L299.9 403.1 Z" fill="#c4cec8" opacity="0.27"/>
<path d="M301.5 401.0 L302.6 400.7 L302.6 402.5 L301.5 402.7 Z" fill="#3f6f78" opacity="0.25"/>
<path d="M303.1 400.6 L304.2 400.4 L304.2 402.1 L303.1 402.4 Z" fill="#d8641e" opacity="0.24"/>
<path d="M304.7 400.3 L305.8 400.1 L305.8 401.8 L304.7 402.0 Z" fill="#e4dcc0" opacity="0.24"/>
<path d="M307.9 399.7 L309.0 399.4 L309.0 401.0 L307.9 401.3 Z" fill="#d2ccb4" opacity="0.24"/>
<path d="M309.5 399.3 L310.6 399.1 L310.6 400.7 L309.5 400.9 Z" fill="#efe9d4" opacity="0.24"/>
<path d="M311.1 399.0 L312.2 398.8 L312.2 400.3 L311.1 400.6 Z" fill="#d2ccb4" opacity="0.24"/>
<path d="M232 418.8 L312 400.6" stroke="#9dbcbc" stroke-width="1.1" opacity="0.9"/>
<path d="M232.0 421.5 L236.7 420.4 L236.7 423.5 L232.0 424.7 Z" fill="#c4cec8" opacity="0.95"/>
<path d="M237.2 420.2 L241.6 419.2 L241.6 422.2 L237.2 423.3 Z" fill="#b9c6c2" opacity="0.90"/>
<path d="M246.7 417.9 L250.5 417.0 L250.5 419.8 L246.7 420.8 Z" fill="#e07a2a" opacity="0.80"/>
<path d="M255.1 415.9 L258.4 415.0 L258.4 417.7 L255.1 418.6 Z" fill="#b9c6c2" opacity="0.72"/>
<path d="M258.9 414.9 L262.0 414.2 L262.0 416.7 L258.9 417.6 Z" fill="#c4cec8" opacity="0.68"/>
<path d="M265.8 413.2 L268.5 412.6 L268.5 415.0 L265.8 415.7 Z" fill="#b9c6c2" opacity="0.61"/>
<path d="M269.0 412.4 L271.5 411.8 L271.5 414.2 L269.0 414.9 Z" fill="#3f6f78" opacity="0.58"/>
<path d="M272.0 411.7 L274.3 411.1 L274.3 413.5 L272.0 414.1 Z" fill="#c4cec8" opacity="0.55"/>
<path d="M274.8 411.0 L276.9 410.5 L276.9 412.8 L274.8 413.3 Z" fill="#c4cec8" opacity="0.52"/>
<path d="M277.4 410.4 L279.4 409.9 L279.4 412.1 L277.4 412.6 Z" fill="#b9c6c2" opacity="0.50"/>
<path d="M279.9 409.8 L281.7 409.3 L281.7 411.5 L279.9 412.0 Z" fill="#b9c6c2" opacity="0.47"/>
<path d="M282.2 409.2 L283.9 408.8 L283.9 410.9 L282.2 411.3 Z" fill="#b9c6c2" opacity="0.45"/>
<path d="M284.4 408.7 L286.0 408.3 L286.0 410.3 L284.4 410.8 Z" fill="#c9501a" opacity="0.43"/>
<path d="M286.5 408.2 L287.9 407.8 L287.9 409.8 L286.5 410.2 Z" fill="#b9c6c2" opacity="0.41"/>
<path d="M290.2 407.2 L291.4 406.9 L291.4 408.9 L290.2 409.2 Z" fill="#efe9d4" opacity="0.37"/>
<path d="M291.9 406.8 L293.0 406.5 L293.0 408.5 L291.9 408.8 Z" fill="#3f6f78" opacity="0.35"/>
<path d="M296.7 405.6 L297.8 405.4 L297.8 407.2 L296.7 407.5 Z" fill="#3f6f78" opacity="0.30"/>
<path d="M298.3 405.2 L299.4 405.0 L299.4 406.8 L298.3 407.1 Z" fill="#c4cec8" opacity="0.29"/>
<path d="M299.9 404.9 L301.0 404.6 L301.0 406.3 L299.9 406.6 Z" fill="#3f6f78" opacity="0.27"/>
<path d="M301.5 404.5 L302.6 404.2 L302.6 405.9 L301.5 406.2 Z" fill="#d2ccb4" opacity="0.25"/>
<path d="M303.1 404.1 L304.2 403.8 L304.2 405.5 L303.1 405.8 Z" fill="#efe9d4" opacity="0.24"/>
<path d="M306.3 403.3 L307.4 403.0 L307.4 404.6 L306.3 404.9 Z" fill="#d2ccb4" opacity="0.24"/>
<path d="M307.9 402.9 L309.0 402.6 L309.0 404.2 L307.9 404.5 Z" fill="#b9c6c2" opacity="0.24"/>
<path d="M309.5 402.5 L310.6 402.2 L310.6 403.8 L309.5 404.1 Z" fill="#efe9d4" opacity="0.24"/>
<path d="M311.1 402.1 L312.2 401.8 L312.2 403.4 L311.1 403.7 Z" fill="#e4dcc0" opacity="0.24"/>
<path d="M232 425.2 L312 403.7" stroke="#9dbcbc" stroke-width="1.1" opacity="0.9"/>
<path d="M232.0 427.9 L236.7 426.6 L236.7 429.7 L232.0 431.1 Z" fill="#efe9d4" opacity="0.95"/>
<path d="M237.2 426.4 L241.6 425.2 L241.6 428.2 L237.2 429.5 Z" fill="#3f6f78" opacity="0.90"/>
<path d="M242.1 425.0 L246.2 423.8 L246.2 426.7 L242.1 428.0 Z" fill="#c4cec8" opacity="0.85"/>
<path d="M246.7 423.7 L250.5 422.6 L250.5 425.4 L246.7 426.6 Z" fill="#e4dcc0" opacity="0.80"/>
<path d="M251.0 422.5 L254.6 421.4 L254.6 424.2 L251.0 425.3 Z" fill="#c4cec8" opacity="0.76"/>
<path d="M255.1 421.3 L258.4 420.3 L258.4 423.0 L255.1 424.0 Z" fill="#e07a2a" opacity="0.72"/>
<path d="M258.9 420.2 L262.0 419.3 L262.0 421.9 L258.9 422.8 Z" fill="#efe9d4" opacity="0.68"/>
<path d="M262.5 419.2 L265.3 418.3 L265.3 420.8 L262.5 421.7 Z" fill="#b9c6c2" opacity="0.65"/>
<path d="M265.8 418.2 L268.5 417.4 L268.5 419.9 L265.8 420.7 Z" fill="#3f6f78" opacity="0.61"/>
<path d="M269.0 417.3 L271.5 416.6 L271.5 418.9 L269.0 419.7 Z" fill="#3f6f78" opacity="0.58"/>
<path d="M272.0 416.4 L274.3 415.8 L274.3 418.1 L272.0 418.8 Z" fill="#b9c6c2" opacity="0.55"/>
<path d="M274.8 415.6 L276.9 415.0 L276.9 417.3 L274.8 417.9 Z" fill="#d2ccb4" opacity="0.52"/>
<path d="M277.4 414.9 L279.4 414.3 L279.4 416.5 L277.4 417.1 Z" fill="#d8641e" opacity="0.50"/>
<path d="M279.9 414.2 L281.7 413.6 L281.7 415.8 L279.9 416.4 Z" fill="#c9501a" opacity="0.47"/>
<path d="M282.2 413.5 L283.9 413.0 L283.9 415.1 L282.2 415.6 Z" fill="#b9c6c2" opacity="0.45"/>
<path d="M286.5 412.3 L287.9 411.9 L287.9 413.9 L286.5 414.3 Z" fill="#e4dcc0" opacity="0.41"/>
<path d="M288.4 411.7 L289.7 411.3 L289.7 413.3 L288.4 413.7 Z" fill="#efe9d4" opacity="0.39"/>
<path d="M290.2 411.2 L291.4 410.9 L291.4 412.8 L290.2 413.2 Z" fill="#d8641e" opacity="0.37"/>
<path d="M291.9 410.7 L293.0 410.4 L293.0 412.3 L291.9 412.7 Z" fill="#b9c6c2" opacity="0.35"/>
<path d="M293.5 410.2 L294.6 409.9 L294.6 411.8 L293.5 412.2 Z" fill="#c4cec8" opacity="0.33"/>
<path d="M295.1 409.8 L296.2 409.5 L296.2 411.3 L295.1 411.7 Z" fill="#c9501a" opacity="0.32"/>
<path d="M296.7 409.3 L297.8 409.0 L297.8 410.8 L296.7 411.2 Z" fill="#efe9d4" opacity="0.30"/>
<path d="M298.3 408.9 L299.4 408.6 L299.4 410.3 L298.3 410.7 Z" fill="#3f6f78" opacity="0.29"/>
<path d="M299.9 408.4 L301.0 408.1 L301.0 409.9 L299.9 410.2 Z" fill="#3f6f78" opacity="0.27"/>
<path d="M301.5 408.0 L302.6 407.6 L302.6 409.4 L301.5 409.7 Z" fill="#d2ccb4" opacity="0.25"/>
<path d="M303.1 407.5 L304.2 407.2 L304.2 408.9 L303.1 409.2 Z" fill="#d8641e" opacity="0.24"/>
<path d="M304.7 407.0 L305.8 406.7 L305.8 408.4 L304.7 408.7 Z" fill="#c9501a" opacity="0.24"/>
<path d="M306.3 406.6 L307.4 406.3 L307.4 407.9 L306.3 408.2 Z" fill="#b9c6c2" opacity="0.24"/>
<path d="M307.9 406.1 L309.0 405.8 L309.0 407.4 L307.9 407.7 Z" fill="#c4cec8" opacity="0.24"/>
<path d="M309.5 405.7 L310.6 405.3 L310.6 406.9 L309.5 407.2 Z" fill="#e07a2a" opacity="0.24"/>
<path d="M232 431.6 L312 406.7" stroke="#9dbcbc" stroke-width="1.1" opacity="0.9"/>
<path d="M256.7 342.1 L256.7 425.9" stroke="#0e2430" stroke-width="2.2"/>
<path d="M273.0 347.4 L273.0 420.6" stroke="#0e2430" stroke-width="1.9"/>
<path d="M284.0 351.0 L284.0 417.0" stroke="#0e2430" stroke-width="1.5"/>
<path d="M292.0 353.6 L292.0 414.4" stroke="#0e2430" stroke-width="1.2"/>
<path d="M298.0 355.6 L298.0 412.4" stroke="#0e2430" stroke-width="0.8"/>
<path d="M303.0 357.2 L303.0 410.8" stroke="#0e2430" stroke-width="0.8"/>
<path d="M221 338 H231 L233 427 H221 Z" fill="#0d1b3c"/>
<path d="M228 338 H233.5 L240 427 H236 Z" fill="#16264a"/>
<path d="M222 380 Q226 360 230 340 L232 427 H224 Z" fill="#1b4d9c" opacity="0.55"/>
<ellipse cx="303" cy="362" rx="13" ry="22" fill="#1c4aa2" opacity="0.85" filter="url(#blur3)"/>
<ellipse cx="310" cy="392" rx="9" ry="20" fill="#0c1c52" opacity="0.9" filter="url(#blur3)"/>
<path d="M236 336 L312 336 L312 360 Z" fill="#0a1830" opacity="0.85"/>
<path d="M236 430 L312 430 L312 408 Z" fill="#0a1830" opacity="0.6"/>
</g>
<path d="M352.6 438 L371.5 418.5 M350.6 447 L380.5 448.4" stroke="#555" stroke-width="0.7" fill="none"/>
<path d="M339.2 413.9 L353.1 413.9 L353.1 426.3 L351.7 438.6 L348.6 449.9 L346.9 455.0 Q345.9 457.0 344.8 455.0 L343.7 449.9 L341.1 438.6 L339.2 426.3 Z" fill="#f3f4f6" stroke="#9aa2a8" stroke-width="0.7" stroke-linejoin="round"/>
<rect x="339.2" y="414.6" width="13.9" height="4.4" fill="#bfc4ca"/>
<path d="M339.6 426.1 L352.7 426.1 L351.4 438.6 L348.3 449.9 L346.7 454.8 Q345.9 456.4 345.0 454.8 L344.0 449.9 L341.4 438.6 L339.6 426.1 Z" fill="url(#orange)"/>
<path d="M339.6 426.4 H352.7" stroke="#c9570c" stroke-width="0.8"/>
<path d="M342.0 429.4 L344.8 448.4" stroke="#f9b067" stroke-width="1.1" stroke-linecap="round" opacity="0.8"/>
<path d="M337.8 411.4 H354.8 L354.1 414.8 H338.2 Q335.8 414.4 335.6 412.4 Z" fill="#dcdfe3" stroke="#8d959c" stroke-width="0.7" stroke-linejoin="round"/>
<circle cx="386.3" cy="429.6" r="18.8" fill="#fdfbf1" stroke="#4a4a4a" stroke-width="0.9"/>
<path d="M398.5 421.1 L397.2 423.4 L394.4 423.4 L393.1 421.1 L394.4 418.8 L397.2 418.8 Z M388.0 431.3 L385.7 432.6 L383.4 431.3 L383.4 428.6 L385.7 427.2 L388.0 428.6 Z M379.7 441.8 L378.4 444.1 L375.6 444.1 L374.3 441.8 L375.6 439.5 L378.4 439.5 Z M393.1 421.0 L388.9 420.0 L386.8 415.4 M388.9 420.0 L384.5 419.0 M388.9 420.0 L387.1 427.2 M384.3 432.3 L382.7 435.2 L380.7 435.4 L378.7 439.4" fill="none" stroke="#6b6b6b" stroke-width="0.6"/>
<path d="M418.2 344.9 H500.6 Q502.8 344.9 502.8 347 V405.6 Q502.8 407.8 500.6 407.8 H417 Q414.9 407.8 414.9 405.6 V348.6 Z" fill="#eaf0f4" stroke="#c3ccd4" stroke-width="0.9"/>
<path d="M419.8 347.6 H499 Q500.2 347.6 500.2 348.8 V403.6 Q500.2 404.9 499 404.9 H418.6 Q417.4 404.9 417.4 403.6 V350.2 Z" fill="#f3f7f9" stroke="#d5dce2" stroke-width="0.6"/>
<g fill="#e2559f" stroke="#c9418a" stroke-width="0.4"><circle cx="426.3" cy="355.1" r="2.55"/><circle cx="432.6" cy="355.1" r="2.55"/><circle cx="438.9" cy="355.1" r="2.55"/><circle cx="445.3" cy="355.1" r="2.55"/><circle cx="451.6" cy="355.1" r="2.55"/><circle cx="457.9" cy="355.1" r="2.55"/><circle cx="464.2" cy="355.1" r="2.55"/><circle cx="470.5" cy="355.1" r="2.55"/><circle cx="476.8" cy="355.1" r="2.55"/><circle cx="483.2" cy="355.1" r="2.55"/><circle cx="495.8" cy="355.1" r="2.55"/><circle cx="438.9" cy="361.4" r="2.55"/><circle cx="445.3" cy="361.4" r="2.55"/><circle cx="451.6" cy="361.4" r="2.55"/><circle cx="457.9" cy="361.4" r="2.55"/><circle cx="464.2" cy="361.4" r="2.55"/><circle cx="470.5" cy="361.4" r="2.55"/><circle cx="476.8" cy="361.4" r="2.55"/><circle cx="483.2" cy="361.4" r="2.55"/><circle cx="495.8" cy="361.4" r="2.55"/><circle cx="426.3" cy="367.7" r="2.55"/><circle cx="432.6" cy="367.7" r="2.55"/><circle cx="438.9" cy="367.7" r="2.55"/><circle cx="445.3" cy="367.7" r="2.55"/><circle cx="451.6" cy="367.7" r="2.55"/><circle cx="457.9" cy="367.7" r="2.55"/><circle cx="464.2" cy="367.7" r="2.55"/><circle cx="470.5" cy="367.7" r="2.55"/><circle cx="483.2" cy="367.7" r="2.55"/><circle cx="489.5" cy="367.7" r="2.55"/><circle cx="495.8" cy="367.7" r="2.55"/><circle cx="426.3" cy="374.0" r="2.55"/><circle cx="438.9" cy="374.0" r="2.55"/><circle cx="445.3" cy="374.0" r="2.55"/><circle cx="451.6" cy="374.0" r="2.55"/><circle cx="476.8" cy="374.0" r="2.55"/><circle cx="483.2" cy="374.0" r="2.55"/><circle cx="495.8" cy="374.0" r="2.55"/><circle cx="426.3" cy="380.3" r="2.55"/><circle cx="432.6" cy="380.3" r="2.55"/><circle cx="438.9" cy="380.3" r="2.55"/><circle cx="445.3" cy="380.3" r="2.55"/><circle cx="451.6" cy="380.3" r="2.55"/><circle cx="457.9" cy="380.3" r="2.55"/><circle cx="464.2" cy="380.3" r="2.55"/><circle cx="470.5" cy="380.3" r="2.55"/><circle cx="476.8" cy="380.3" r="2.55"/><circle cx="483.2" cy="380.3" r="2.55"/><circle cx="495.8" cy="380.3" r="2.55"/><circle cx="426.3" cy="386.6" r="2.55"/><circle cx="432.6" cy="386.6" r="2.55"/><circle cx="438.9" cy="386.6" r="2.55"/><circle cx="445.3" cy="386.6" r="2.55"/><circle cx="451.6" cy="386.6" r="2.55"/><circle cx="457.9" cy="386.6" r="2.55"/><circle cx="464.2" cy="386.6" r="2.55"/><circle cx="470.5" cy="386.6" r="2.55"/><circle cx="483.2" cy="386.6" r="2.55"/><circle cx="495.8" cy="386.6" r="2.55"/><circle cx="426.3" cy="392.9" r="2.55"/><circle cx="438.9" cy="392.9" r="2.55"/><circle cx="445.3" cy="392.9" r="2.55"/><circle cx="451.6" cy="392.9" r="2.55"/><circle cx="457.9" cy="392.9" r="2.55"/><circle cx="464.2" cy="392.9" r="2.55"/><circle cx="470.5" cy="392.9" r="2.55"/><circle cx="476.8" cy="392.9" r="2.55"/><circle cx="483.2" cy="392.9" r="2.55"/><circle cx="489.5" cy="392.9" r="2.55"/><circle cx="495.8" cy="392.9" r="2.55"/><circle cx="426.3" cy="399.2" r="2.55"/><circle cx="438.9" cy="399.2" r="2.55"/><circle cx="445.3" cy="399.2" r="2.55"/><circle cx="451.6" cy="399.2" r="2.55"/><circle cx="470.5" cy="399.2" r="2.55"/><circle cx="476.8" cy="399.2" r="2.55"/><circle cx="483.2" cy="399.2" r="2.55"/><circle cx="489.5" cy="399.2" r="2.55"/><circle cx="495.8" cy="399.2" r="2.55"/></g>
<g fill="#55b6ec" stroke="#3c98d0" stroke-width="0.4"><circle cx="489.5" cy="355.1" r="2.55"/><circle cx="426.3" cy="361.4" r="2.55"/><circle cx="432.6" cy="361.4" r="2.55"/><circle cx="489.5" cy="361.4" r="2.55"/><circle cx="476.8" cy="367.7" r="2.55"/><circle cx="432.6" cy="374.0" r="2.55"/><circle cx="457.9" cy="374.0" r="2.55"/><circle cx="470.5" cy="374.0" r="2.55"/><circle cx="489.5" cy="374.0" r="2.55"/><circle cx="489.5" cy="380.3" r="2.55"/><circle cx="489.5" cy="386.6" r="2.55"/><circle cx="432.6" cy="392.9" r="2.55"/><circle cx="432.6" cy="399.2" r="2.55"/></g>
<g fill="#8e55d6" stroke="#7440bb" stroke-width="0.4"><circle cx="464.2" cy="374.0" r="2.55"/><circle cx="476.8" cy="386.6" r="2.55"/><circle cx="457.9" cy="399.2" r="2.55"/><circle cx="464.2" cy="399.2" r="2.55"/></g>
<path d="M426.3 349.6 v1.4 M432.6 349.6 v1.4 M438.9 349.6 v1.4 M445.3 349.6 v1.4 M451.6 349.6 v1.4 M457.9 349.6 v1.4 M464.2 349.6 v1.4 M470.5 349.6 v1.4 M476.8 349.6 v1.4 M483.2 349.6 v1.4 M489.5 349.6 v1.4 M495.8 349.6 v1.4 M420.6 355.1 h1.2 M420.6 361.4 h1.2 M420.6 367.7 h1.2 M420.6 374.0 h1.2 M420.6 380.3 h1.2 M420.6 386.6 h1.2 M420.6 392.9 h1.2 M420.6 399.2 h1.2 " stroke="#9fb4c4" stroke-width="0.5"/>
<path d="M659.8 404.5 V431 Q659.8 437 655.4 438.6 A26.5 26.5 0 1 0 680.2 438.6 Q675.8 437 675.8 431 V404.5 Z" fill="#e3ecf4" fill-opacity="0.95" stroke="#8fa5bd" stroke-width="1.1" stroke-linejoin="round"/>
<path d="M693.2 460.4 A25.5 25.5 0 1 1 642.4 460.4 Z" fill="url(#liq)"/>
<ellipse cx="667.8" cy="461.0" rx="25.2" ry="4.4" fill="#c9dcf0" stroke="#98b6d8" stroke-width="0.6"/>
<ellipse cx="667.8" cy="482.6" rx="9.5" ry="2.8" fill="#6f9dd2" opacity="0.75"/>
<path d="M646.2 453 Q648.5 441.5 657.5 436" fill="none" stroke="#ffffff" stroke-width="2.2" stroke-linecap="round" opacity="0.85"/>
<path d="M662.6 408 V433" fill="none" stroke="#ffffff" stroke-width="1.8" stroke-linecap="round" opacity="0.8"/>
<path d="M672.6 408 V434" fill="none" stroke="#c8d6e4" stroke-width="1.2" stroke-linecap="round" opacity="0.9"/>
<rect x="657.7" y="399.6" width="19.8" height="5.6" rx="2.6" fill="#eef3f8" stroke="#8fa5bd" stroke-width="1"/>
<path d="M577.2 24.4 H678.5 L666.8 48.8 H588.9 Z" fill="#1d3263" stroke="#0e1836" stroke-width="1.4" stroke-linejoin="round"/>
<path d="M593.6 79.3 H662 L649.7 103.6 H605.5 Z" fill="#7f97d3" stroke="#1d2a5c" stroke-width="1.3" stroke-linejoin="round"/>
<path d="M609 133.6 H651 L640 158.4 H622 Z" fill="#b9c5ea" stroke="#1d2a5c" stroke-width="1.3" stroke-linejoin="round"/>
<path d="M675.5 37.9 H739.7 V70" class="arr" marker-end="url(#ah)"/>
<path d="M739.7 131 V146.2 H647" class="arr" marker-end="url(#ah)"/>
<path d="M375.5 127 Q394 106 423.3 97.7" class="arr" marker-end="url(#ah)"/>
<path d="M610 175 C620 186 640 190 670 190.6 C705 191.2 730 195 744.3 205.4" class="arr" marker-end="url(#ah)"/>
<path d="M291.3 423.6 Q303 436 325.5 437" class="arr" marker-end="url(#ah)"/>
<path d="M411.6 439.4 Q434 439 443.5 420.6" class="arr" marker-end="url(#ah)"/>
<path d="M452.2 337.6 C465 326 480 321 492 321.7 C515 323 535 336 550 349.8" class="arr" marker-end="url(#ah)"/>
<path d="M573.8 396.9 Q588 410 610.6 415.8" class="arr" marker-end="url(#ah)"/>
<path d="M690.4 411.3 C706 408 722 382 734 356 C739 343 741.5 334 742.3 324.6" class="arr" marker-end="url(#ah)"/>
<path d="M627 482 Q610 470 613 452 Q617 432 643 426.5" fill="none" stroke="#0b0b0b" stroke-width="1.9" marker-end="url(#ahb)"/>
<path d="M689 423.5 Q716 432 719 458 Q720 470 712 480" fill="none" stroke="#0b0b0b" stroke-width="1.9" marker-end="url(#ahb)"/>
<path d="M745.3 208.6 L795.7 233 V298.6 L745 324.4 L696.1 298.6 V233 Z" fill="#fcebe9" stroke="#b31b1b" stroke-width="2.6" stroke-linejoin="miter"/>
<rect x="715.2" y="236" width="25.4" height="45.6" rx="2.2" fill="url(#bot)"/>
<rect x="715.2" y="277.5" width="25.4" height="4.1" rx="2" fill="#33548f" opacity="0.6"/>
<rect x="721.2" y="248" width="19.4" height="25.6" fill="#f1f2f4"/>
<text x="725" y="257.4" font-size="6.6" fill="#4a4f58" font-family="Liberation Serif,serif">R<tspan dy="1.6" dx="-1.6" font-size="5">x</tspan></text>
<rect x="725.4" y="260" width="15.2" height="2" fill="#8d96a8" opacity="0.85"/>
<path d="M725.8 264.8 H737 M725.8 266.8 H737 M725.8 268.8 H737" stroke="#6a6f78" stroke-width="1.1"/>
<rect x="713.7" y="230.4" width="27.8" height="6.8" rx="1.6" fill="#c5cad0"/>
<rect x="713.7" y="230.4" width="27.8" height="2.4" rx="1.2" fill="#dde0e4"/>
<g transform="translate(773.4 259.2) rotate(-24.0)">
<path d="M0 -5.2 H-9.8 A5.2 5.2 0 0 0 -9.8 5.2 H0 Z" fill="#e1e4e8"/>
<path d="M0 -5.2 H9.8 A5.2 5.2 0 0 1 9.8 5.2 H0 Z" fill="#5f8ad8"/>
<path d="M-9.8 2.9 H9.8" stroke="#000" stroke-opacity="0.13" stroke-width="3.7" stroke-linecap="round"/>
<path d="M-9.8 -2.4 H9.8" stroke="#fff" stroke-opacity="0.35" stroke-width="2.1" stroke-linecap="round"/>
</g>
<g transform="translate(764.3 246.0) rotate(-15.0)">
<path d="M0 -5.2 H-9.8 A5.2 5.2 0 0 0 -9.8 5.2 H0 Z" fill="#5f8ad8"/>
<path d="M0 -5.2 H9.8 A5.2 5.2 0 0 1 9.8 5.2 H0 Z" fill="#e1e4e8"/>
<path d="M-9.8 2.9 H9.8" stroke="#000" stroke-opacity="0.13" stroke-width="3.7" stroke-linecap="round"/>
<path d="M-9.8 -2.4 H9.8" stroke="#fff" stroke-opacity="0.35" stroke-width="2.1" stroke-linecap="round"/>
</g>
<g transform="translate(765.5 271.2) rotate(0.0)">
<path d="M0 -5.4 H-9.6 A5.4 5.4 0 0 0 -9.6 5.4 H0 Z" fill="#5f8ad8"/>
<path d="M0 -5.4 H9.6 A5.4 5.4 0 0 1 9.6 5.4 H0 Z" fill="#e1e4e8"/>
<path d="M-9.6 3.0 H9.6" stroke="#000" stroke-opacity="0.13" stroke-width="3.8" stroke-linecap="round"/>
<path d="M-9.6 -2.4 H9.6" stroke="#fff" stroke-opacity="0.35" stroke-width="2.2" stroke-linecap="round"/>
</g>
<text x="42.70" y="20.40" class="b i" font-size="20.5" fill="#0a0a0a" textLength="80.09" lengthAdjust="spacingAndGlyphs">In Silico</text>
<text x="44.60" y="316.60" class="b i" font-size="20.5" fill="#0a0a0a" textLength="72.20" lengthAdjust="spacingAndGlyphs">In Vitro</text>
<text x="36.00" y="67.00" class="b" font-size="16.0" fill="#3b4a48" textLength="80.81" lengthAdjust="spacingAndGlyphs">&lt; 6 months</text>
<text x="48.60" y="87.00" class="b" font-size="16.0" fill="#3b4a48" textLength="55.33" lengthAdjust="spacingAndGlyphs">~ $100k</text>
<text x="13.20" y="106.50" class="b" font-size="16.0" fill="#3b4a48" textLength="126.20" lengthAdjust="spacingAndGlyphs">~200 compounds</text>
<text x="37.00" y="145.70" class="b" font-size="16.0" fill="#3b4a48" textLength="79.02" lengthAdjust="spacingAndGlyphs">No custom</text>
<text x="42.00" y="165.20" class="b" font-size="16.0" fill="#3b4a48" textLength="69.41" lengthAdjust="spacingAndGlyphs">synthesis</text>
<text x="49.60" y="185.00" class="b" font-size="16.0" fill="#3b4a48" textLength="53.82" lengthAdjust="spacingAndGlyphs">needed</text>
<text x="38.60" y="362.00" class="b" font-size="16.0" fill="#2a5b6c" textLength="75.80" lengthAdjust="spacingAndGlyphs">3 – 5 years</text>
<text x="44.00" y="382.20" class="b" font-size="16.0" fill="#2a5b6c" textLength="64.79" lengthAdjust="spacingAndGlyphs">~ $5-10M</text>
<text x="53.20" y="401.70" class="b" font-size="16.0" fill="#2a5b6c" textLength="46.18" lengthAdjust="spacingAndGlyphs">&gt; 1000</text>
<text x="32.60" y="421.00" class="b" font-size="16.0" fill="#2a5b6c" textLength="87.81" lengthAdjust="spacingAndGlyphs">compounds</text>
<text x="14.60" y="460.50" class="b" font-size="16.0" fill="#2a5b6c" textLength="123.81" lengthAdjust="spacingAndGlyphs">Requires custom</text>
<text x="42.00" y="479.70" class="b" font-size="16.0" fill="#2a5b6c" textLength="69.41" lengthAdjust="spacingAndGlyphs">synthesis</text>
<text x="280.20" y="69.50" class="b" font-size="14.1" fill="#0a0a0a" textLength="104.82" lengthAdjust="spacingAndGlyphs">High-Res Protein</text>
<text x="300.80" y="86.10" class="b" font-size="14.1" fill="#0a0a0a" textLength="64.22" lengthAdjust="spacingAndGlyphs">Structures</text>
<text x="277.60" y="103.30" class="" font-size="14.3" fill="#0a0a0a" textLength="108.98" lengthAdjust="spacingAndGlyphs">X-ray or Cryo-EM</text>
<text x="235.20" y="161.30" class="b" font-size="14.1" fill="#0a0a0a" textLength="76.49" lengthAdjust="spacingAndGlyphs">REAL Space</text>
<text x="248.40" y="178.10" class="b" font-size="14.1" fill="#0a0a0a" textLength="52.61" lengthAdjust="spacingAndGlyphs">Libraries</text>
<text x="445.50" y="40.40" class="b" font-size="14.1" fill="#0a0a0a" textLength="83.59" lengthAdjust="spacingAndGlyphs">REAL Space</text>
<text x="446.10" y="57.10" class="b" font-size="14.1" fill="#0a0a0a" textLength="28.98" lengthAdjust="spacingAndGlyphs">&gt; 10</text>
<text x="475.40" y="53.00" class="b" font-size="11.3" fill="#0a0a0a" textLength="10.62" lengthAdjust="spacingAndGlyphs">10</text>
<text x="489.40" y="57.10" class="" font-size="14.3" fill="#0a0a0a" textLength="73.58" lengthAdjust="spacingAndGlyphs">compounds</text>
<text x="453.40" y="90.60" class="b" font-size="14.1" fill="#0a0a0a" textLength="97.52" lengthAdjust="spacingAndGlyphs">SAR-by-Catalog</text>
<text x="446.10" y="107.40" class="" font-size="14.3" fill="#0a0a0a" textLength="111.71" lengthAdjust="spacingAndGlyphs">&amp; Tangible Blocks</text>
<text x="442.60" y="124.50" class="b" font-size="14.1" fill="#0a0a0a" textLength="27.28" lengthAdjust="spacingAndGlyphs">&gt; 10</text>
<text x="470.60" y="119.30" class="b" font-size="11.3" fill="#0a0a0a" textLength="13.32" lengthAdjust="spacingAndGlyphs">15</text>
<text x="487.90" y="124.50" class="" font-size="14.3" fill="#0a0a0a" textLength="73.48" lengthAdjust="spacingAndGlyphs">compounds</text>
<text x="471.50" y="151.90" class="b" font-size="14.1" fill="#0a0a0a" textLength="110.50" lengthAdjust="spacingAndGlyphs">Lead Optimization</text>
<text x="588.00" y="42.60" class="b" font-size="14.1" fill="#ffffff" textLength="79.92" lengthAdjust="spacingAndGlyphs">V-SYNTHES</text>
<text x="596.80" y="71.80" class="" font-size="14.3" fill="#0a0a0a" textLength="61.38" lengthAdjust="spacingAndGlyphs">Initial Hits</text>
<text x="589.90" y="126.10" class="" font-size="14.3" fill="#0a0a0a" textLength="74.72" lengthAdjust="spacingAndGlyphs">Lead Series</text>
<text x="704.00" y="89.40" class="" font-size="14.3" fill="#0a0a0a" textLength="70.48" lengthAdjust="spacingAndGlyphs">Structure &amp;</text>
<text x="711.50" y="106.00" class="" font-size="14.3" fill="#0a0a0a" textLength="55.90" lengthAdjust="spacingAndGlyphs">AI based</text>
<text x="698.00" y="122.80" class="" font-size="14.3" fill="#0a0a0a" textLength="82.59" lengthAdjust="spacingAndGlyphs">QSAR/PSAR</text>
<text x="581.30" y="202.50" class="b" font-size="14.1" fill="#0a0a0a" textLength="63.80" lengthAdjust="spacingAndGlyphs">Medicinal</text>
<text x="579.70" y="219.60" class="b" font-size="14.1" fill="#0a0a0a" textLength="66.71" lengthAdjust="spacingAndGlyphs">Chemistry</text>
<text x="698.40" y="296.50" class="b" font-size="13.6" fill="#0a0a0a" textLength="95.32" lengthAdjust="spacingAndGlyphs">Drug Candidates</text>
<text x="335.80" y="177.30" class="b" font-size="14.1" fill="#ffffff" letter-spacing="3.33">REAL</text>
<text x="351.50" y="340.00" class="b i" font-size="14.1" fill="#0a0a0a" textLength="41.20" lengthAdjust="spacingAndGlyphs">In vitro</text>
<text x="396.50" y="340.00" class="b" font-size="14.1" fill="#0a0a0a" textLength="27.40" lengthAdjust="spacingAndGlyphs">HTS</text>
<text x="365.20" y="356.90" class="b" font-size="14.1" fill="#0a0a0a" textLength="44.59" lengthAdjust="spacingAndGlyphs">Assays</text>
<text x="220.00" y="460.60" class="b" font-size="14.1" fill="#0a0a0a" textLength="97.36" lengthAdjust="spacingAndGlyphs">Chemical Stock</text>
<text x="242.00" y="477.40" class="b" font-size="14.1" fill="#0a0a0a" textLength="54.01" lengthAdjust="spacingAndGlyphs">Libraries</text>
<text x="198.60" y="494.00" class="" font-size="14.3" fill="#0a0a0a" textLength="140.78" lengthAdjust="spacingAndGlyphs">~ 1 million compounds</text>
<text x="534.50" y="331.60" class="b" font-size="14.1" fill="#0a0a0a" textLength="87.91" lengthAdjust="spacingAndGlyphs">Hit Validation</text>
<text x="528.50" y="364.90" class="b" font-size="14.1" fill="#0a0a0a" textLength="100.90" lengthAdjust="spacingAndGlyphs">Lead Generation</text>
<text x="560.70" y="382.40" class="b" font-size="14.1" fill="#0a0a0a" textLength="36.31" lengthAdjust="spacingAndGlyphs">(SAR)</text>
<text x="524.00" y="445.30" class="b" font-size="14.1" fill="#0a0a0a" textLength="63.40" lengthAdjust="spacingAndGlyphs">Medicinal</text>
<text x="522.60" y="461.70" class="b" font-size="14.1" fill="#0a0a0a" textLength="66.01" lengthAdjust="spacingAndGlyphs">Chemistry</text>
<text x="605.10" y="501.00" class="b" font-size="14.1" fill="#0a0a0a" textLength="120.91" lengthAdjust="spacingAndGlyphs">Custom Synthesis</text>
</svg></body></html>
